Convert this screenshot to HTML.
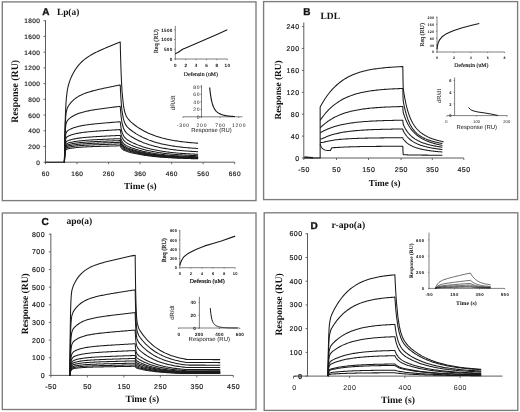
<!DOCTYPE html>
<html><head><meta charset="utf-8"><style>
html,body{margin:0;padding:0;background:#fff;}
body{width:520px;height:412px;overflow:hidden;font-family:"Liberation Sans", sans-serif;}
svg{display:block;will-change:transform;text-rendering:geometricPrecision;filter:blur(0.3px);}
</style></head><body>
<svg width="520" height="412" viewBox="0 0 520 412">
<rect width="520" height="412" fill="#fff"/>
<rect x="2.3" y="1.9" width="253.7" height="198.7" fill="none" stroke="#7c7c7c" stroke-width="1.35"/>
<line x1="45.5" y1="162.2" x2="234.68" y2="162.2" stroke="#4a4a4a" stroke-width="0.9"/>
<line x1="45.5" y1="20.22" x2="45.5" y2="162.2" stroke="#4a4a4a" stroke-width="0.9"/>
<line x1="45.5" y1="162.2" x2="45.5" y2="164.2" stroke="#4a4a4a" stroke-width="0.81"/>
<text x="45.73" y="175.6" font-size="6.5" font-family='"Liberation Sans", sans-serif' font-weight="normal" text-anchor="middle" fill="#111" letter-spacing="0.45" stroke="#222" stroke-width="0.18">60</text>
<line x1="77.03" y1="162.2" x2="77.03" y2="164.2" stroke="#4a4a4a" stroke-width="0.81"/>
<text x="77.25" y="175.6" font-size="6.5" font-family='"Liberation Sans", sans-serif' font-weight="normal" text-anchor="middle" fill="#111" letter-spacing="0.45" stroke="#222" stroke-width="0.18">160</text>
<line x1="108.56" y1="162.2" x2="108.56" y2="164.2" stroke="#4a4a4a" stroke-width="0.81"/>
<text x="108.78" y="175.6" font-size="6.5" font-family='"Liberation Sans", sans-serif' font-weight="normal" text-anchor="middle" fill="#111" letter-spacing="0.45" stroke="#222" stroke-width="0.18">260</text>
<line x1="140.09" y1="162.2" x2="140.09" y2="164.2" stroke="#4a4a4a" stroke-width="0.81"/>
<text x="140.31" y="175.6" font-size="6.5" font-family='"Liberation Sans", sans-serif' font-weight="normal" text-anchor="middle" fill="#111" letter-spacing="0.45" stroke="#222" stroke-width="0.18">360</text>
<line x1="171.62" y1="162.2" x2="171.62" y2="164.2" stroke="#4a4a4a" stroke-width="0.81"/>
<text x="171.84" y="175.6" font-size="6.5" font-family='"Liberation Sans", sans-serif' font-weight="normal" text-anchor="middle" fill="#111" letter-spacing="0.45" stroke="#222" stroke-width="0.18">460</text>
<line x1="203.15" y1="162.2" x2="203.15" y2="164.2" stroke="#4a4a4a" stroke-width="0.81"/>
<text x="203.38" y="175.6" font-size="6.5" font-family='"Liberation Sans", sans-serif' font-weight="normal" text-anchor="middle" fill="#111" letter-spacing="0.45" stroke="#222" stroke-width="0.18">560</text>
<line x1="234.68" y1="162.2" x2="234.68" y2="164.2" stroke="#4a4a4a" stroke-width="0.81"/>
<text x="234.91" y="175.6" font-size="6.5" font-family='"Liberation Sans", sans-serif' font-weight="normal" text-anchor="middle" fill="#111" letter-spacing="0.45" stroke="#222" stroke-width="0.18">660</text>
<line x1="43.5" y1="162.2" x2="45.5" y2="162.2" stroke="#4a4a4a" stroke-width="0.81"/>
<text x="40.45" y="164.8" font-size="6.5" font-family='"Liberation Sans", sans-serif' font-weight="normal" text-anchor="end" fill="#111" letter-spacing="0.45" stroke="#222" stroke-width="0.18">0</text>
<line x1="43.5" y1="146.48" x2="45.5" y2="146.48" stroke="#4a4a4a" stroke-width="0.81"/>
<text x="40.45" y="149.08" font-size="6.5" font-family='"Liberation Sans", sans-serif' font-weight="normal" text-anchor="end" fill="#111" letter-spacing="0.45" stroke="#222" stroke-width="0.18">200</text>
<line x1="43.5" y1="130.76" x2="45.5" y2="130.76" stroke="#4a4a4a" stroke-width="0.81"/>
<text x="40.45" y="133.36" font-size="6.5" font-family='"Liberation Sans", sans-serif' font-weight="normal" text-anchor="end" fill="#111" letter-spacing="0.45" stroke="#222" stroke-width="0.18">400</text>
<line x1="43.5" y1="115.04" x2="45.5" y2="115.04" stroke="#4a4a4a" stroke-width="0.81"/>
<text x="40.45" y="117.64" font-size="6.5" font-family='"Liberation Sans", sans-serif' font-weight="normal" text-anchor="end" fill="#111" letter-spacing="0.45" stroke="#222" stroke-width="0.18">600</text>
<line x1="43.5" y1="99.32" x2="45.5" y2="99.32" stroke="#4a4a4a" stroke-width="0.81"/>
<text x="40.45" y="101.92" font-size="6.5" font-family='"Liberation Sans", sans-serif' font-weight="normal" text-anchor="end" fill="#111" letter-spacing="0.45" stroke="#222" stroke-width="0.18">800</text>
<line x1="43.5" y1="83.6" x2="45.5" y2="83.6" stroke="#4a4a4a" stroke-width="0.81"/>
<text x="40.45" y="86.2" font-size="6.5" font-family='"Liberation Sans", sans-serif' font-weight="normal" text-anchor="end" fill="#111" letter-spacing="0.45" stroke="#222" stroke-width="0.18">1000</text>
<line x1="43.5" y1="67.88" x2="45.5" y2="67.88" stroke="#4a4a4a" stroke-width="0.81"/>
<text x="40.45" y="70.48" font-size="6.5" font-family='"Liberation Sans", sans-serif' font-weight="normal" text-anchor="end" fill="#111" letter-spacing="0.45" stroke="#222" stroke-width="0.18">1200</text>
<line x1="43.5" y1="52.16" x2="45.5" y2="52.16" stroke="#4a4a4a" stroke-width="0.81"/>
<text x="40.45" y="54.76" font-size="6.5" font-family='"Liberation Sans", sans-serif' font-weight="normal" text-anchor="end" fill="#111" letter-spacing="0.45" stroke="#222" stroke-width="0.18">1400</text>
<line x1="43.5" y1="36.44" x2="45.5" y2="36.44" stroke="#4a4a4a" stroke-width="0.81"/>
<text x="40.45" y="39.04" font-size="6.5" font-family='"Liberation Sans", sans-serif' font-weight="normal" text-anchor="end" fill="#111" letter-spacing="0.45" stroke="#222" stroke-width="0.18">1600</text>
<line x1="43.5" y1="20.72" x2="45.5" y2="20.72" stroke="#4a4a4a" stroke-width="0.81"/>
<text x="40.45" y="23.32" font-size="6.5" font-family='"Liberation Sans", sans-serif' font-weight="normal" text-anchor="end" fill="#111" letter-spacing="0.45" stroke="#222" stroke-width="0.18">1800</text>
<text x="42.3" y="14.6" font-size="10" font-family='"Liberation Sans", sans-serif' font-weight="bold" text-anchor="start" fill="#111" stroke="#111" stroke-width="0.35">A</text>
<text x="56.9" y="14.6" font-size="9.4" font-family='"Liberation Serif", serif' font-weight="bold" text-anchor="start" fill="#111">Lp(a)</text>
<text x="17.6" y="91.3" font-size="9.9" font-family='"Liberation Serif", serif' font-weight="bold" text-anchor="middle" fill="#111" transform="rotate(-90 17.6 91.3)">Response (RU)</text>
<text x="140.4" y="188.8" font-size="9.3" font-family='"Liberation Serif", serif' font-weight="bold" text-anchor="middle" fill="#111">Time (s)</text>
<path d="M45.5,162.2 L64.42,162.2 L64.42,162.2 L64.63,147.81 L64.84,136.31 L65.05,127.09 L65.26,119.66 L65.47,113.66 L65.68,108.78 L65.89,104.77 L66.1,101.47 L66.31,98.72 L67.22,90.82 L68.14,86.26 L69.05,83.02 L69.97,80.4 L70.88,78.11 L71.79,76.05 L72.71,74.18 L73.62,72.46 L74.53,70.88 L75.45,69.43 L76.36,68.08 L77.28,66.83 L78.19,65.67 L79.1,64.59 L80.02,63.58 L80.93,62.64 L81.85,61.75 L82.76,60.92 L83.67,60.13 L84.59,59.39 L85.5,58.69 L86.41,58.02 L87.33,57.38 L88.24,56.76 L89.16,56.18 L90.07,55.61 L90.98,55.07 L91.9,54.55 L92.81,54.04 L93.72,53.54 L94.64,53.06 L95.55,52.59 L96.47,52.14 L97.38,51.69 L98.29,51.25 L99.21,50.82 L100.12,50.4 L101.04,49.98 L101.95,49.57 L102.86,49.16 L103.78,48.76 L104.69,48.36 L105.6,47.97 L106.52,47.58 L107.43,47.19 L108.35,46.8 L109.26,46.42 L110.17,46.04 L111.09,45.66 L112,45.29 L112.92,44.91 L113.83,44.54 L114.74,44.17 L115.66,43.8 L116.57,43.43 L117.48,43.06 L118.4,42.69 L119.31,42.33 L120.23,41.96 L120.23,41.96 L120.44,50.82 L120.65,58.6 L120.86,65.43 L121.07,71.44 L121.28,76.73 L121.49,81.38 L121.7,85.48 L121.91,89.1 L122.12,92.3 L123.41,105.31 L124.69,111.83 L125.98,115.44 L127.27,117.75 L128.56,119.45 L129.85,120.84 L131.13,122.08 L132.42,123.21 L133.71,124.26 L135,125.26 L136.29,126.21 L137.57,127.11 L138.86,127.97 L140.15,128.78 L141.44,129.56 L142.72,130.3 L144.01,131 L145.3,131.67 L146.59,132.31 L147.88,132.92 L149.16,133.49 L150.45,134.05 L151.74,134.57 L153.03,135.07 L154.32,135.54 L155.6,136 L156.89,136.43 L158.18,136.84 L159.47,137.23 L160.76,137.6 L162.04,137.96 L163.33,138.29 L164.62,138.61 L165.91,138.92 L167.2,139.21 L168.48,139.49 L169.77,139.75 L171.06,140 L172.35,140.24 L173.63,140.47 L174.92,140.69 L176.21,140.89 L177.5,141.09 L178.79,141.28 L180.07,141.46 L181.36,141.63 L182.65,141.79 L183.94,141.94 L185.23,142.09 L186.51,142.23 L187.8,142.36 L189.09,142.49 L190.38,142.61 L191.67,142.72 L192.95,142.83 L194.24,142.94 L195.53,143.03 L196.82,143.13 L198.11,143.22" fill="none" stroke="#1a1a1a" stroke-width="1.05" stroke-linejoin="round"/>
<path d="M64.42,162.2 L64.42,162.2 L64.63,148.07 L64.84,137.75 L65.05,130.19 L65.26,124.62 L65.47,120.49 L65.68,117.4 L65.89,115.07 L66.1,113.28 L66.31,111.89 L67.22,108.34 L68.14,106.43 L69.05,105.01 L69.97,103.8 L70.88,102.7 L71.79,101.7 L72.71,100.78 L73.62,99.94 L74.53,99.17 L75.45,98.45 L76.36,97.79 L77.28,97.17 L78.19,96.6 L79.1,96.07 L80.02,95.58 L80.93,95.11 L81.85,94.68 L82.76,94.27 L83.67,93.88 L84.59,93.51 L85.5,93.17 L86.41,92.84 L87.33,92.52 L88.24,92.22 L89.16,91.94 L90.07,91.66 L90.98,91.39 L91.9,91.13 L92.81,90.88 L93.72,90.64 L94.64,90.4 L95.55,90.17 L96.47,89.95 L97.38,89.73 L98.29,89.51 L99.21,89.3 L100.12,89.09 L101.04,88.89 L101.95,88.68 L102.86,88.48 L103.78,88.29 L104.69,88.09 L105.6,87.9 L106.52,87.71 L107.43,87.52 L108.35,87.33 L109.26,87.14 L110.17,86.95 L111.09,86.77 L112,86.58 L112.92,86.4 L113.83,86.21 L114.74,86.03 L115.66,85.85 L116.57,85.67 L117.48,85.49 L118.4,85.31 L119.31,85.13 L120.23,84.95 L120.23,84.95 L120.44,89.6 L120.65,93.7 L120.86,97.32 L121.07,100.51 L121.28,103.32 L121.49,105.81 L121.7,108.02 L121.91,109.97 L122.12,111.71 L123.41,118.94 L124.69,122.81 L125.98,125.16 L127.27,126.81 L128.56,128.12 L129.85,129.26 L131.13,130.29 L132.42,131.26 L133.71,132.16 L135,133.02 L136.29,133.84 L137.57,134.61 L138.86,135.35 L140.15,136.05 L141.44,136.72 L142.72,137.36 L144.01,137.97 L145.3,138.55 L146.59,139.1 L147.88,139.62 L149.16,140.12 L150.45,140.59 L151.74,141.05 L153.03,141.48 L154.32,141.89 L155.6,142.28 L156.89,142.65 L158.18,143 L159.47,143.34 L160.76,143.66 L162.04,143.97 L163.33,144.26 L164.62,144.53 L165.91,144.8 L167.2,145.05 L168.48,145.29 L169.77,145.52 L171.06,145.73 L172.35,145.94 L173.63,146.14 L174.92,146.32 L176.21,146.5 L177.5,146.67 L178.79,146.83 L180.07,146.99 L181.36,147.13 L182.65,147.27 L183.94,147.4 L185.23,147.53 L186.51,147.65 L187.8,147.77 L189.09,147.88 L190.38,147.98 L191.67,148.08 L192.95,148.17 L194.24,148.26 L195.53,148.35 L196.82,148.43 L198.11,148.51" fill="none" stroke="#1a1a1a" stroke-width="1.05" stroke-linejoin="round"/>
<path d="M64.42,162.2 L64.42,162.2 L64.63,150.1 L64.84,141.65 L65.05,135.73 L65.26,131.55 L65.47,128.59 L65.68,126.46 L65.89,124.92 L66.1,123.78 L66.31,122.92 L67.22,120.83 L68.14,119.71 L69.05,118.86 L69.97,118.1 L70.88,117.42 L71.79,116.8 L72.71,116.22 L73.62,115.7 L74.53,115.21 L75.45,114.76 L76.36,114.35 L77.28,113.97 L78.19,113.61 L79.1,113.28 L80.02,112.97 L80.93,112.68 L81.85,112.4 L82.76,112.15 L83.67,111.91 L84.59,111.68 L85.5,111.46 L86.41,111.26 L87.33,111.06 L88.24,110.87 L89.16,110.69 L90.07,110.52 L90.98,110.35 L91.9,110.19 L92.81,110.03 L93.72,109.88 L94.64,109.73 L95.55,109.59 L96.47,109.45 L97.38,109.31 L98.29,109.18 L99.21,109.04 L100.12,108.91 L101.04,108.79 L101.95,108.66 L102.86,108.53 L103.78,108.41 L104.69,108.29 L105.6,108.17 L106.52,108.05 L107.43,107.93 L108.35,107.81 L109.26,107.69 L110.17,107.58 L111.09,107.46 L112,107.34 L112.92,107.23 L113.83,107.11 L114.74,107 L115.66,106.89 L116.57,106.77 L117.48,106.66 L118.4,106.55 L119.31,106.43 L120.23,106.32 L120.23,106.32 L120.44,109.24 L120.65,111.81 L120.86,114.09 L121.07,116.1 L121.28,117.89 L121.49,119.47 L121.7,120.87 L121.91,122.13 L122.12,123.24 L123.41,127.99 L124.69,130.65 L125.98,132.36 L127.27,133.64 L128.56,134.69 L129.85,135.62 L131.13,136.47 L132.42,137.28 L133.71,138.03 L135,138.75 L136.29,139.44 L137.57,140.09 L138.86,140.7 L140.15,141.29 L141.44,141.85 L142.72,142.39 L144.01,142.9 L145.3,143.38 L146.59,143.84 L147.88,144.28 L149.16,144.7 L150.45,145.09 L151.74,145.47 L153.03,145.83 L154.32,146.18 L155.6,146.5 L156.89,146.82 L158.18,147.11 L159.47,147.39 L160.76,147.66 L162.04,147.92 L163.33,148.16 L164.62,148.39 L165.91,148.62 L167.2,148.83 L168.48,149.03 L169.77,149.22 L171.06,149.4 L172.35,149.57 L173.63,149.74 L174.92,149.89 L176.21,150.04 L177.5,150.18 L178.79,150.32 L180.07,150.45 L181.36,150.57 L182.65,150.69 L183.94,150.8 L185.23,150.9 L186.51,151.01 L187.8,151.1 L189.09,151.19 L190.38,151.28 L191.67,151.36 L192.95,151.44 L194.24,151.52 L195.53,151.59 L196.82,151.66 L198.11,151.72" fill="none" stroke="#1a1a1a" stroke-width="1.05" stroke-linejoin="round"/>
<path d="M64.42,162.2 L64.42,162.2 L64.63,152.45 L64.84,145.85 L65.05,141.37 L65.26,138.31 L65.47,136.2 L65.68,134.73 L65.89,133.7 L66.1,132.96 L66.31,132.41 L67.22,131.11 L68.14,130.42 L69.05,129.87 L69.97,129.38 L70.88,128.94 L71.79,128.53 L72.71,128.16 L73.62,127.82 L74.53,127.5 L75.45,127.21 L76.36,126.94 L77.28,126.69 L78.19,126.46 L79.1,126.25 L80.02,126.04 L80.93,125.86 L81.85,125.68 L82.76,125.51 L83.67,125.36 L84.59,125.21 L85.5,125.07 L86.41,124.93 L87.33,124.8 L88.24,124.68 L89.16,124.57 L90.07,124.45 L90.98,124.34 L91.9,124.24 L92.81,124.14 L93.72,124.04 L94.64,123.94 L95.55,123.85 L96.47,123.76 L97.38,123.67 L98.29,123.58 L99.21,123.49 L100.12,123.41 L101.04,123.33 L101.95,123.24 L102.86,123.16 L103.78,123.08 L104.69,123 L105.6,122.92 L106.52,122.85 L107.43,122.77 L108.35,122.69 L109.26,122.62 L110.17,122.54 L111.09,122.46 L112,122.39 L112.92,122.31 L113.83,122.24 L114.74,122.17 L115.66,122.09 L116.57,122.02 L117.48,121.94 L118.4,121.87 L119.31,121.8 L120.23,121.72 L120.23,121.72 L120.44,123.56 L120.65,125.19 L120.86,126.63 L121.07,127.91 L121.28,129.04 L121.49,130.06 L121.7,130.96 L121.91,131.77 L122.12,132.49 L123.41,135.63 L124.69,137.48 L125.98,138.73 L127.27,139.7 L128.56,140.52 L129.85,141.27 L131.13,141.95 L132.42,142.6 L133.71,143.21 L135,143.79 L136.29,144.35 L137.57,144.87 L138.86,145.37 L140.15,145.85 L141.44,146.3 L142.72,146.74 L144.01,147.15 L145.3,147.54 L146.59,147.91 L147.88,148.27 L149.16,148.61 L150.45,148.93 L151.74,149.23 L153.03,149.53 L154.32,149.8 L155.6,150.07 L156.89,150.32 L158.18,150.56 L159.47,150.79 L160.76,151.01 L162.04,151.21 L163.33,151.41 L164.62,151.6 L165.91,151.78 L167.2,151.95 L168.48,152.11 L169.77,152.27 L171.06,152.41 L172.35,152.55 L173.63,152.69 L174.92,152.81 L176.21,152.93 L177.5,153.05 L178.79,153.16 L180.07,153.26 L181.36,153.36 L182.65,153.46 L183.94,153.55 L185.23,153.63 L186.51,153.71 L187.8,153.79 L189.09,153.86 L190.38,153.94 L191.67,154 L192.95,154.07 L194.24,154.13 L195.53,154.19 L196.82,154.24 L198.11,154.29" fill="none" stroke="#1a1a1a" stroke-width="1.05" stroke-linejoin="round"/>
<path d="M64.42,162.2 L64.42,162.2 L64.63,153.94 L64.84,148.44 L65.05,144.76 L65.26,142.29 L65.47,140.61 L65.68,139.47 L65.89,138.67 L66.1,138.1 L66.31,137.69 L67.22,136.73 L68.14,136.21 L69.05,135.79 L69.97,135.42 L70.88,135.08 L71.79,134.78 L72.71,134.49 L73.62,134.23 L74.53,133.99 L75.45,133.77 L76.36,133.56 L77.28,133.37 L78.19,133.2 L79.1,133.03 L80.02,132.88 L80.93,132.73 L81.85,132.6 L82.76,132.47 L83.67,132.35 L84.59,132.24 L85.5,132.13 L86.41,132.03 L87.33,131.93 L88.24,131.84 L89.16,131.75 L90.07,131.66 L90.98,131.58 L91.9,131.5 L92.81,131.42 L93.72,131.35 L94.64,131.28 L95.55,131.2 L96.47,131.13 L97.38,131.07 L98.29,131 L99.21,130.93 L100.12,130.87 L101.04,130.81 L101.95,130.74 L102.86,130.68 L103.78,130.62 L104.69,130.56 L105.6,130.5 L106.52,130.44 L107.43,130.38 L108.35,130.32 L109.26,130.26 L110.17,130.21 L111.09,130.15 L112,130.09 L112.92,130.03 L113.83,129.98 L114.74,129.92 L115.66,129.86 L116.57,129.81 L117.48,129.75 L118.4,129.7 L119.31,129.64 L120.23,129.58 L120.23,129.58 L120.44,130.93 L120.65,132.13 L120.86,133.19 L121.07,134.14 L121.28,134.98 L121.49,135.74 L121.7,136.41 L121.91,137.02 L122.12,137.56 L123.41,139.95 L124.69,141.4 L125.98,142.41 L127.27,143.22 L128.56,143.91 L129.85,144.54 L131.13,145.13 L132.42,145.68 L133.71,146.21 L135,146.7 L136.29,147.18 L137.57,147.63 L138.86,148.06 L140.15,148.46 L141.44,148.85 L142.72,149.22 L144.01,149.57 L145.3,149.91 L146.59,150.23 L147.88,150.53 L149.16,150.82 L150.45,151.1 L151.74,151.36 L153.03,151.61 L154.32,151.85 L155.6,152.08 L156.89,152.29 L158.18,152.5 L159.47,152.69 L160.76,152.88 L162.04,153.06 L163.33,153.22 L164.62,153.38 L165.91,153.54 L167.2,153.68 L168.48,153.82 L169.77,153.95 L171.06,154.08 L172.35,154.2 L173.63,154.31 L174.92,154.42 L176.21,154.53 L177.5,154.62 L178.79,154.72 L180.07,154.81 L181.36,154.89 L182.65,154.97 L183.94,155.05 L185.23,155.12 L186.51,155.19 L187.8,155.26 L189.09,155.32 L190.38,155.38 L191.67,155.44 L192.95,155.5 L194.24,155.55 L195.53,155.6 L196.82,155.65 L198.11,155.69" fill="none" stroke="#1a1a1a" stroke-width="1.05" stroke-linejoin="round"/>
<path d="M64.42,162.2 L64.42,162.2 L64.63,155.17 L64.84,150.54 L65.05,147.48 L65.26,145.46 L65.47,144.1 L65.68,143.18 L65.89,142.54 L66.1,142.1 L66.31,141.78 L67.22,141.03 L68.14,140.63 L69.05,140.3 L69.97,140.01 L70.88,139.74 L71.79,139.5 L72.71,139.27 L73.62,139.07 L74.53,138.88 L75.45,138.7 L76.36,138.54 L77.28,138.39 L78.19,138.25 L79.1,138.12 L80.02,138 L80.93,137.89 L81.85,137.78 L82.76,137.68 L83.67,137.58 L84.59,137.5 L85.5,137.41 L86.41,137.33 L87.33,137.25 L88.24,137.18 L89.16,137.11 L90.07,137.04 L90.98,136.98 L91.9,136.91 L92.81,136.85 L93.72,136.79 L94.64,136.73 L95.55,136.68 L96.47,136.62 L97.38,136.57 L98.29,136.52 L99.21,136.46 L100.12,136.41 L101.04,136.36 L101.95,136.31 L102.86,136.27 L103.78,136.22 L104.69,136.17 L105.6,136.12 L106.52,136.07 L107.43,136.03 L108.35,135.98 L109.26,135.94 L110.17,135.89 L111.09,135.84 L112,135.8 L112.92,135.75 L113.83,135.71 L114.74,135.67 L115.66,135.62 L116.57,135.58 L117.48,135.53 L118.4,135.49 L119.31,135.44 L120.23,135.4 L120.23,135.4 L120.44,136.42 L120.65,137.33 L120.86,138.14 L121.07,138.86 L121.28,139.5 L121.49,140.08 L121.7,140.59 L121.91,141.06 L122.12,141.48 L123.41,143.35 L124.69,144.52 L125.98,145.35 L127.27,146.03 L128.56,146.62 L129.85,147.16 L131.13,147.67 L132.42,148.14 L133.71,148.59 L135,149.02 L136.29,149.43 L137.57,149.82 L138.86,150.19 L140.15,150.54 L141.44,150.87 L142.72,151.19 L144.01,151.49 L145.3,151.78 L146.59,152.06 L147.88,152.32 L149.16,152.57 L150.45,152.81 L151.74,153.03 L153.03,153.25 L154.32,153.45 L155.6,153.65 L156.89,153.83 L158.18,154.01 L159.47,154.18 L160.76,154.34 L162.04,154.49 L163.33,154.64 L164.62,154.78 L165.91,154.91 L167.2,155.03 L168.48,155.15 L169.77,155.27 L171.06,155.38 L172.35,155.48 L173.63,155.58 L174.92,155.67 L176.21,155.76 L177.5,155.85 L178.79,155.93 L180.07,156 L181.36,156.08 L182.65,156.15 L183.94,156.21 L185.23,156.28 L186.51,156.34 L187.8,156.39 L189.09,156.45 L190.38,156.5 L191.67,156.55 L192.95,156.6 L194.24,156.64 L195.53,156.68 L196.82,156.72 L198.11,156.76" fill="none" stroke="#1a1a1a" stroke-width="1.05" stroke-linejoin="round"/>
<path d="M64.42,162.2 L64.42,162.2 L64.63,155.9 L64.84,151.77 L65.05,149.07 L65.26,147.29 L65.47,146.1 L65.68,145.3 L65.89,144.76 L66.1,144.38 L66.31,144.1 L67.22,143.47 L68.14,143.12 L69.05,142.84 L69.97,142.59 L70.88,142.36 L71.79,142.15 L72.71,141.96 L73.62,141.78 L74.53,141.61 L75.45,141.46 L76.36,141.32 L77.28,141.2 L78.19,141.08 L79.1,140.96 L80.02,140.86 L80.93,140.76 L81.85,140.67 L82.76,140.58 L83.67,140.5 L84.59,140.43 L85.5,140.35 L86.41,140.28 L87.33,140.22 L88.24,140.15 L89.16,140.09 L90.07,140.03 L90.98,139.98 L91.9,139.92 L92.81,139.87 L93.72,139.82 L94.64,139.77 L95.55,139.72 L96.47,139.67 L97.38,139.63 L98.29,139.58 L99.21,139.54 L100.12,139.49 L101.04,139.45 L101.95,139.41 L102.86,139.37 L103.78,139.33 L104.69,139.28 L105.6,139.24 L106.52,139.2 L107.43,139.16 L108.35,139.12 L109.26,139.08 L110.17,139.04 L111.09,139.01 L112,138.97 L112.92,138.93 L113.83,138.89 L114.74,138.85 L115.66,138.81 L116.57,138.77 L117.48,138.74 L118.4,138.7 L119.31,138.66 L120.23,138.62 L120.23,138.62 L120.44,139.47 L120.65,140.23 L120.86,140.91 L121.07,141.51 L121.28,142.05 L121.49,142.54 L121.7,142.97 L121.91,143.37 L122.12,143.72 L123.41,145.32 L124.69,146.33 L125.98,147.07 L127.27,147.67 L128.56,148.2 L129.85,148.69 L131.13,149.15 L132.42,149.58 L133.71,149.98 L135,150.37 L136.29,150.74 L137.57,151.09 L138.86,151.42 L140.15,151.74 L141.44,152.04 L142.72,152.33 L144.01,152.61 L145.3,152.87 L146.59,153.12 L147.88,153.35 L149.16,153.58 L150.45,153.79 L151.74,154 L153.03,154.19 L154.32,154.38 L155.6,154.56 L156.89,154.72 L158.18,154.88 L159.47,155.04 L160.76,155.18 L162.04,155.32 L163.33,155.45 L164.62,155.58 L165.91,155.7 L167.2,155.81 L168.48,155.92 L169.77,156.02 L171.06,156.12 L172.35,156.21 L173.63,156.3 L174.92,156.39 L176.21,156.47 L177.5,156.54 L178.79,156.62 L180.07,156.69 L181.36,156.75 L182.65,156.81 L183.94,156.87 L185.23,156.93 L186.51,156.99 L187.8,157.04 L189.09,157.09 L190.38,157.13 L191.67,157.18 L192.95,157.22 L194.24,157.26 L195.53,157.3 L196.82,157.34 L198.11,157.37" fill="none" stroke="#1a1a1a" stroke-width="1.05" stroke-linejoin="round"/>
<path d="M64.42,162.2 L64.42,162.2 L64.63,156.36 L64.84,152.55 L65.05,150.07 L65.26,148.43 L65.47,147.35 L65.68,146.62 L65.89,146.13 L66.1,145.78 L66.31,145.54 L67.22,144.97 L68.14,144.66 L69.05,144.4 L69.97,144.17 L70.88,143.97 L71.79,143.78 L72.71,143.6 L73.62,143.44 L74.53,143.29 L75.45,143.16 L76.36,143.03 L77.28,142.91 L78.19,142.81 L79.1,142.71 L80.02,142.61 L80.93,142.52 L81.85,142.44 L82.76,142.36 L83.67,142.29 L84.59,142.22 L85.5,142.15 L86.41,142.09 L87.33,142.03 L88.24,141.97 L89.16,141.92 L90.07,141.86 L90.98,141.81 L91.9,141.76 L92.81,141.72 L93.72,141.67 L94.64,141.63 L95.55,141.58 L96.47,141.54 L97.38,141.5 L98.29,141.46 L99.21,141.42 L100.12,141.38 L101.04,141.34 L101.95,141.3 L102.86,141.26 L103.78,141.22 L104.69,141.19 L105.6,141.15 L106.52,141.11 L107.43,141.08 L108.35,141.04 L109.26,141 L110.17,140.97 L111.09,140.93 L112,140.9 L112.92,140.86 L113.83,140.83 L114.74,140.79 L115.66,140.76 L116.57,140.72 L117.48,140.69 L118.4,140.66 L119.31,140.62 L120.23,140.59 L120.23,140.59 L120.44,141.34 L120.65,142.01 L120.86,142.61 L121.07,143.15 L121.28,143.63 L121.49,144.06 L121.7,144.45 L121.91,144.8 L122.12,145.11 L123.41,146.55 L124.69,147.47 L125.98,148.15 L127.27,148.7 L128.56,149.2 L129.85,149.65 L131.13,150.08 L132.42,150.48 L133.71,150.86 L135,151.22 L136.29,151.56 L137.57,151.89 L138.86,152.2 L140.15,152.5 L141.44,152.78 L142.72,153.05 L144.01,153.3 L145.3,153.55 L146.59,153.78 L147.88,154 L149.16,154.21 L150.45,154.41 L151.74,154.6 L153.03,154.78 L154.32,154.96 L155.6,155.12 L156.89,155.28 L158.18,155.43 L159.47,155.57 L160.76,155.71 L162.04,155.83 L163.33,155.96 L164.62,156.07 L165.91,156.19 L167.2,156.29 L168.48,156.39 L169.77,156.49 L171.06,156.58 L172.35,156.67 L173.63,156.75 L174.92,156.83 L176.21,156.9 L177.5,156.98 L178.79,157.04 L180.07,157.11 L181.36,157.17 L182.65,157.23 L183.94,157.29 L185.23,157.34 L186.51,157.39 L187.8,157.44 L189.09,157.48 L190.38,157.53 L191.67,157.57 L192.95,157.61 L194.24,157.65 L195.53,157.68 L196.82,157.72 L198.11,157.75" fill="none" stroke="#1a1a1a" stroke-width="1.05" stroke-linejoin="round"/>
<path d="M64.42,162.2 L64.42,162.2 L64.63,156.77 L64.84,153.25 L65.05,150.96 L65.26,149.45 L65.47,148.46 L65.68,147.8 L65.89,147.35 L66.1,147.04 L66.31,146.81 L67.22,146.3 L68.14,146.02 L69.05,145.79 L69.97,145.58 L70.88,145.39 L71.79,145.22 L72.71,145.06 L73.62,144.91 L74.53,144.78 L75.45,144.65 L76.36,144.54 L77.28,144.43 L78.19,144.33 L79.1,144.24 L80.02,144.16 L80.93,144.08 L81.85,144 L82.76,143.93 L83.67,143.86 L84.59,143.8 L85.5,143.74 L86.41,143.68 L87.33,143.63 L88.24,143.58 L89.16,143.53 L90.07,143.48 L90.98,143.43 L91.9,143.39 L92.81,143.34 L93.72,143.3 L94.64,143.26 L95.55,143.22 L96.47,143.18 L97.38,143.14 L98.29,143.11 L99.21,143.07 L100.12,143.03 L101.04,143 L101.95,142.96 L102.86,142.93 L103.78,142.89 L104.69,142.86 L105.6,142.83 L106.52,142.79 L107.43,142.76 L108.35,142.73 L109.26,142.7 L110.17,142.66 L111.09,142.63 L112,142.6 L112.92,142.57 L113.83,142.54 L114.74,142.5 L115.66,142.47 L116.57,142.44 L117.48,142.41 L118.4,142.38 L119.31,142.35 L120.23,142.32 L120.23,142.32 L120.44,142.99 L120.65,143.58 L120.86,144.12 L121.07,144.6 L121.28,145.02 L121.49,145.41 L121.7,145.76 L121.91,146.07 L122.12,146.36 L123.41,147.65 L124.69,148.49 L125.98,149.12 L127.27,149.63 L128.56,150.09 L129.85,150.52 L131.13,150.91 L132.42,151.29 L133.71,151.64 L135,151.98 L136.29,152.3 L137.57,152.61 L138.86,152.9 L140.15,153.18 L141.44,153.44 L142.72,153.69 L144.01,153.93 L145.3,154.16 L146.59,154.37 L147.88,154.58 L149.16,154.78 L150.45,154.97 L151.74,155.14 L153.03,155.31 L154.32,155.48 L155.6,155.63 L156.89,155.78 L158.18,155.92 L159.47,156.05 L160.76,156.17 L162.04,156.29 L163.33,156.41 L164.62,156.52 L165.91,156.62 L167.2,156.72 L168.48,156.82 L169.77,156.91 L171.06,156.99 L172.35,157.07 L173.63,157.15 L174.92,157.22 L176.21,157.29 L177.5,157.36 L178.79,157.42 L180.07,157.49 L181.36,157.54 L182.65,157.6 L183.94,157.65 L185.23,157.7 L186.51,157.75 L187.8,157.79 L189.09,157.84 L190.38,157.88 L191.67,157.92 L192.95,157.95 L194.24,157.99 L195.53,158.02 L196.82,158.05 L198.11,158.08" fill="none" stroke="#1a1a1a" stroke-width="1.05" stroke-linejoin="round"/>
<path d="M64.42,162.2 L64.42,162.2 L64.63,157.18 L64.84,153.93 L65.05,151.82 L65.26,150.44 L65.47,149.54 L65.68,148.94 L65.89,148.53 L66.1,148.25 L66.31,148.04 L67.22,147.58 L68.14,147.32 L69.05,147.11 L69.97,146.93 L70.88,146.76 L71.79,146.6 L72.71,146.45 L73.62,146.32 L74.53,146.2 L75.45,146.09 L76.36,145.98 L77.28,145.89 L78.19,145.8 L79.1,145.71 L80.02,145.64 L80.93,145.56 L81.85,145.5 L82.76,145.43 L83.67,145.37 L84.59,145.31 L85.5,145.26 L86.41,145.21 L87.33,145.16 L88.24,145.11 L89.16,145.06 L90.07,145.02 L90.98,144.98 L91.9,144.94 L92.81,144.9 L93.72,144.86 L94.64,144.82 L95.55,144.79 L96.47,144.75 L97.38,144.72 L98.29,144.68 L99.21,144.65 L100.12,144.62 L101.04,144.59 L101.95,144.55 L102.86,144.52 L103.78,144.49 L104.69,144.46 L105.6,144.43 L106.52,144.4 L107.43,144.37 L108.35,144.34 L109.26,144.31 L110.17,144.28 L111.09,144.25 L112,144.22 L112.92,144.19 L113.83,144.17 L114.74,144.14 L115.66,144.11 L116.57,144.08 L117.48,144.05 L118.4,144.02 L119.31,143.99 L120.23,143.97 L120.23,143.97 L120.44,144.56 L120.65,145.09 L120.86,145.56 L121.07,145.99 L121.28,146.37 L121.49,146.71 L121.7,147.02 L121.91,147.3 L122.12,147.56 L123.41,148.72 L124.69,149.49 L125.98,150.06 L127.27,150.54 L128.56,150.97 L129.85,151.36 L131.13,151.73 L132.42,152.08 L133.71,152.41 L135,152.72 L136.29,153.02 L137.57,153.31 L138.86,153.58 L140.15,153.84 L141.44,154.08 L142.72,154.32 L144.01,154.54 L145.3,154.75 L146.59,154.95 L147.88,155.14 L149.16,155.33 L150.45,155.5 L151.74,155.67 L153.03,155.83 L154.32,155.98 L155.6,156.12 L156.89,156.26 L158.18,156.39 L159.47,156.51 L160.76,156.63 L162.04,156.74 L163.33,156.85 L164.62,156.95 L165.91,157.05 L167.2,157.14 L168.48,157.23 L169.77,157.31 L171.06,157.39 L172.35,157.47 L173.63,157.54 L174.92,157.61 L176.21,157.67 L177.5,157.73 L178.79,157.79 L180.07,157.85 L181.36,157.9 L182.65,157.95 L183.94,158 L185.23,158.05 L186.51,158.09 L187.8,158.14 L189.09,158.18 L190.38,158.21 L191.67,158.25 L192.95,158.29 L194.24,158.32 L195.53,158.35 L196.82,158.38 L198.11,158.41" fill="none" stroke="#1a1a1a" stroke-width="1.05" stroke-linejoin="round"/>
<path d="M64.42,162.2 L64.42,162.2 L64.63,157.63 L64.84,154.69 L65.05,152.78 L65.26,151.54 L65.47,150.73 L65.68,150.19 L65.89,149.83 L66.1,149.58 L66.31,149.4 L67.22,148.99 L68.14,148.76 L69.05,148.58 L69.97,148.41 L70.88,148.26 L71.79,148.12 L72.71,147.99 L73.62,147.87 L74.53,147.76 L75.45,147.66 L76.36,147.57 L77.28,147.48 L78.19,147.4 L79.1,147.33 L80.02,147.26 L80.93,147.2 L81.85,147.14 L82.76,147.08 L83.67,147.02 L84.59,146.97 L85.5,146.92 L86.41,146.88 L87.33,146.83 L88.24,146.79 L89.16,146.75 L90.07,146.71 L90.98,146.68 L91.9,146.64 L92.81,146.6 L93.72,146.57 L94.64,146.54 L95.55,146.51 L96.47,146.47 L97.38,146.44 L98.29,146.41 L99.21,146.38 L100.12,146.35 L101.04,146.33 L101.95,146.3 L102.86,146.27 L103.78,146.24 L104.69,146.21 L105.6,146.19 L106.52,146.16 L107.43,146.13 L108.35,146.11 L109.26,146.08 L110.17,146.05 L111.09,146.03 L112,146 L112.92,145.98 L113.83,145.95 L114.74,145.93 L115.66,145.9 L116.57,145.87 L117.48,145.85 L118.4,145.82 L119.31,145.8 L120.23,145.77 L120.23,145.77 L120.44,146.29 L120.65,146.75 L120.86,147.16 L121.07,147.52 L121.28,147.85 L121.49,148.15 L121.7,148.42 L121.91,148.67 L122.12,148.89 L123.41,149.92 L124.69,150.6 L125.98,151.12 L127.27,151.55 L128.56,151.94 L129.85,152.3 L131.13,152.64 L132.42,152.96 L133.71,153.26 L135,153.55 L136.29,153.83 L137.57,154.09 L138.86,154.34 L140.15,154.57 L141.44,154.8 L142.72,155.01 L144.01,155.22 L145.3,155.41 L146.59,155.6 L147.88,155.77 L149.16,155.94 L150.45,156.1 L151.74,156.25 L153.03,156.4 L154.32,156.54 L155.6,156.67 L156.89,156.79 L158.18,156.91 L159.47,157.03 L160.76,157.13 L162.04,157.24 L163.33,157.33 L164.62,157.43 L165.91,157.52 L167.2,157.6 L168.48,157.68 L169.77,157.76 L171.06,157.83 L172.35,157.9 L173.63,157.97 L174.92,158.03 L176.21,158.09 L177.5,158.15 L178.79,158.2 L180.07,158.25 L181.36,158.3 L182.65,158.35 L183.94,158.39 L185.23,158.44 L186.51,158.48 L187.8,158.52 L189.09,158.55 L190.38,158.59 L191.67,158.62 L192.95,158.65 L194.24,158.68 L195.53,158.71 L196.82,158.74 L198.11,158.76" fill="none" stroke="#1a1a1a" stroke-width="1.05" stroke-linejoin="round"/>
<line x1="175.3" y1="59" x2="227.3" y2="59" stroke="#4a4a4a" stroke-width="0.7"/>
<line x1="175.3" y1="25.9" x2="175.3" y2="59" stroke="#4a4a4a" stroke-width="0.7"/>
<line x1="175.3" y1="59" x2="175.3" y2="60.2" stroke="#4a4a4a" stroke-width="0.63"/>
<text x="175.45" y="66.9" font-size="4.6" font-family='"Liberation Sans", sans-serif' font-weight="bold" text-anchor="middle" fill="#111" letter-spacing="0.3">0</text>
<line x1="185.7" y1="59" x2="185.7" y2="60.2" stroke="#4a4a4a" stroke-width="0.63"/>
<text x="185.85" y="66.9" font-size="4.6" font-family='"Liberation Sans", sans-serif' font-weight="bold" text-anchor="middle" fill="#111" letter-spacing="0.3">2</text>
<line x1="196.1" y1="59" x2="196.1" y2="60.2" stroke="#4a4a4a" stroke-width="0.63"/>
<text x="196.25" y="66.9" font-size="4.6" font-family='"Liberation Sans", sans-serif' font-weight="bold" text-anchor="middle" fill="#111" letter-spacing="0.3">4</text>
<line x1="206.5" y1="59" x2="206.5" y2="60.2" stroke="#4a4a4a" stroke-width="0.63"/>
<text x="206.65" y="66.9" font-size="4.6" font-family='"Liberation Sans", sans-serif' font-weight="bold" text-anchor="middle" fill="#111" letter-spacing="0.3">6</text>
<line x1="216.9" y1="59" x2="216.9" y2="60.2" stroke="#4a4a4a" stroke-width="0.63"/>
<text x="217.05" y="66.9" font-size="4.6" font-family='"Liberation Sans", sans-serif' font-weight="bold" text-anchor="middle" fill="#111" letter-spacing="0.3">8</text>
<line x1="227.3" y1="59" x2="227.3" y2="60.2" stroke="#4a4a4a" stroke-width="0.63"/>
<text x="227.45" y="66.9" font-size="4.6" font-family='"Liberation Sans", sans-serif' font-weight="bold" text-anchor="middle" fill="#111" letter-spacing="0.3">10</text>
<line x1="174.1" y1="59" x2="175.3" y2="59" stroke="#4a4a4a" stroke-width="0.63"/>
<text x="172.6" y="60.84" font-size="4.6" font-family='"Liberation Sans", sans-serif' font-weight="bold" text-anchor="end" fill="#111" letter-spacing="0.3">0</text>
<line x1="174.1" y1="49.27" x2="175.3" y2="49.27" stroke="#4a4a4a" stroke-width="0.63"/>
<text x="172.6" y="51.11" font-size="4.6" font-family='"Liberation Sans", sans-serif' font-weight="bold" text-anchor="end" fill="#111" letter-spacing="0.3">500</text>
<line x1="174.1" y1="39.53" x2="175.3" y2="39.53" stroke="#4a4a4a" stroke-width="0.63"/>
<text x="172.6" y="41.37" font-size="4.6" font-family='"Liberation Sans", sans-serif' font-weight="bold" text-anchor="end" fill="#111" letter-spacing="0.3">1000</text>
<line x1="174.1" y1="29.79" x2="175.3" y2="29.79" stroke="#4a4a4a" stroke-width="0.63"/>
<text x="172.6" y="31.63" font-size="4.6" font-family='"Liberation Sans", sans-serif' font-weight="bold" text-anchor="end" fill="#111" letter-spacing="0.3">1500</text>
<path d="M175.3,54.13 L175.82,53.55 L177.9,52.57 L180.5,50.82 L183.1,49.07 L185.7,47.9 L196.1,43.42 L206.5,38.95 L216.9,34.47 L227.3,29.79" fill="none" stroke="#1a1a1a" stroke-width="1.1" stroke-linejoin="round"/>
<text x="200.8" y="76.2" font-size="5.75" font-family='"Liberation Serif", serif' font-weight="normal" text-anchor="middle" fill="#111" stroke="#111" stroke-width="0.15">Defensin (uM)</text>
<text x="158" y="41.2" font-size="6.2" font-family='"Liberation Serif", serif' font-weight="normal" text-anchor="middle" fill="#111" transform="rotate(-90 158 41.2)" stroke="#111" stroke-width="0.15">Req (RU)</text>
<line x1="182.9" y1="116.8" x2="242.42" y2="116.8" stroke="#4a4a4a" stroke-width="0.7"/>
<line x1="201.5" y1="84.92" x2="201.5" y2="116.8" stroke="#4a4a4a" stroke-width="0.7"/>
<line x1="182.9" y1="116.8" x2="182.9" y2="118" stroke="#4a4a4a" stroke-width="0.63"/>
<text x="183.3" y="126.9" font-size="5.0" font-family='"Liberation Sans", sans-serif' font-weight="normal" text-anchor="middle" fill="#111" letter-spacing="0.8">-300</text>
<line x1="201.5" y1="116.8" x2="201.5" y2="118" stroke="#4a4a4a" stroke-width="0.63"/>
<text x="201.9" y="126.9" font-size="5.0" font-family='"Liberation Sans", sans-serif' font-weight="normal" text-anchor="middle" fill="#111" letter-spacing="0.8">200</text>
<line x1="220.1" y1="116.8" x2="220.1" y2="118" stroke="#4a4a4a" stroke-width="0.63"/>
<text x="220.5" y="126.9" font-size="5.0" font-family='"Liberation Sans", sans-serif' font-weight="normal" text-anchor="middle" fill="#111" letter-spacing="0.8">700</text>
<line x1="238.7" y1="116.8" x2="238.7" y2="118" stroke="#4a4a4a" stroke-width="0.63"/>
<text x="239.1" y="126.9" font-size="5.0" font-family='"Liberation Sans", sans-serif' font-weight="normal" text-anchor="middle" fill="#111" letter-spacing="0.8">1200</text>
<line x1="200.3" y1="116.8" x2="201.5" y2="116.8" stroke="#4a4a4a" stroke-width="0.63"/>
<text x="200.4" y="118.8" font-size="5.0" font-family='"Liberation Sans", sans-serif' font-weight="normal" text-anchor="end" fill="#111" letter-spacing="0.8">0</text>
<line x1="200.3" y1="109.3" x2="201.5" y2="109.3" stroke="#4a4a4a" stroke-width="0.63"/>
<text x="200.4" y="111.3" font-size="5.0" font-family='"Liberation Sans", sans-serif' font-weight="normal" text-anchor="end" fill="#111" letter-spacing="0.8">20</text>
<line x1="200.3" y1="101.8" x2="201.5" y2="101.8" stroke="#4a4a4a" stroke-width="0.63"/>
<text x="200.4" y="103.8" font-size="5.0" font-family='"Liberation Sans", sans-serif' font-weight="normal" text-anchor="end" fill="#111" letter-spacing="0.8">40</text>
<line x1="200.3" y1="94.3" x2="201.5" y2="94.3" stroke="#4a4a4a" stroke-width="0.63"/>
<text x="200.4" y="96.3" font-size="5.0" font-family='"Liberation Sans", sans-serif' font-weight="normal" text-anchor="end" fill="#111" letter-spacing="0.8">60</text>
<line x1="200.3" y1="86.8" x2="201.5" y2="86.8" stroke="#4a4a4a" stroke-width="0.63"/>
<text x="200.4" y="88.8" font-size="5.0" font-family='"Liberation Sans", sans-serif' font-weight="normal" text-anchor="end" fill="#111" letter-spacing="0.8">80</text>
<path d="M209.68,87.55 L210.2,92.24 L210.72,95.98 L211.23,98.99 L211.75,101.43 L212.27,103.43 L212.78,105.07 L213.3,106.45 L213.81,107.6 L214.33,108.58 L214.85,109.42 L215.36,110.15 L215.88,110.79 L216.4,111.34 L216.91,111.84 L217.43,112.27 L217.94,112.67 L218.46,113.02 L218.98,113.34 L219.49,113.62 L220.01,113.89 L220.53,114.12 L221.04,114.34 L221.56,114.54 L222.07,114.72 L222.59,114.89 L223.11,115.04 L223.62,115.18 L224.14,115.31 L224.66,115.42 L225.17,115.53 L225.69,115.63 L226.2,115.72 L226.72,115.81 L227.24,115.89 L227.75,115.96 L228.27,116.03 L228.79,116.09 L229.3,116.14 L229.82,116.19 L230.33,116.24 L230.85,116.29 L231.37,116.33 L231.88,116.36 L232.4,116.4 L232.92,116.43 L233.43,116.46 L233.95,116.48 L234.46,116.51 L234.98,116.53" fill="none" stroke="#1a1a1a" stroke-width="1.15" stroke-linejoin="round"/>
<text x="211.5" y="131.6" font-size="5.9" font-family='"Liberation Sans", sans-serif' font-weight="normal" text-anchor="middle" fill="#111">Response (RU)</text>
<text x="174.8" y="102.9" font-size="6.2" font-family='"Liberation Sans", sans-serif' font-weight="normal" text-anchor="middle" fill="#111" transform="rotate(-90 174.8 102.9)">dR/dt</text>
<rect x="263.6" y="1.6" width="254" height="198" fill="none" stroke="#7c7c7c" stroke-width="1.35"/>
<line x1="303.8" y1="158" x2="463.8" y2="158" stroke="#4a4a4a" stroke-width="0.9"/>
<line x1="303.8" y1="22.5" x2="303.8" y2="158" stroke="#4a4a4a" stroke-width="0.9"/>
<line x1="303.8" y1="158" x2="303.8" y2="160" stroke="#4a4a4a" stroke-width="0.81"/>
<text x="304.05" y="172.2" font-size="7.0" font-family='"Liberation Sans", sans-serif' font-weight="normal" text-anchor="middle" fill="#111" letter-spacing="0.5" stroke="#222" stroke-width="0.18">-50</text>
<line x1="336.5" y1="158" x2="336.5" y2="160" stroke="#4a4a4a" stroke-width="0.81"/>
<text x="336.75" y="172.2" font-size="7.0" font-family='"Liberation Sans", sans-serif' font-weight="normal" text-anchor="middle" fill="#111" letter-spacing="0.5" stroke="#222" stroke-width="0.18">50</text>
<line x1="368.5" y1="158" x2="368.5" y2="160" stroke="#4a4a4a" stroke-width="0.81"/>
<text x="368.75" y="172.2" font-size="7.0" font-family='"Liberation Sans", sans-serif' font-weight="normal" text-anchor="middle" fill="#111" letter-spacing="0.5" stroke="#222" stroke-width="0.18">150</text>
<line x1="401.1" y1="158" x2="401.1" y2="160" stroke="#4a4a4a" stroke-width="0.81"/>
<text x="401.35" y="172.2" font-size="7.0" font-family='"Liberation Sans", sans-serif' font-weight="normal" text-anchor="middle" fill="#111" letter-spacing="0.5" stroke="#222" stroke-width="0.18">250</text>
<line x1="432.3" y1="158" x2="432.3" y2="160" stroke="#4a4a4a" stroke-width="0.81"/>
<text x="432.55" y="172.2" font-size="7.0" font-family='"Liberation Sans", sans-serif' font-weight="normal" text-anchor="middle" fill="#111" letter-spacing="0.5" stroke="#222" stroke-width="0.18">350</text>
<line x1="463.8" y1="158" x2="463.8" y2="160" stroke="#4a4a4a" stroke-width="0.81"/>
<text x="464.05" y="172.2" font-size="7.0" font-family='"Liberation Sans", sans-serif' font-weight="normal" text-anchor="middle" fill="#111" letter-spacing="0.5" stroke="#222" stroke-width="0.18">450</text>
<line x1="301.8" y1="158" x2="303.8" y2="158" stroke="#4a4a4a" stroke-width="0.81"/>
<text x="299.6" y="160.52" font-size="7.0" font-family='"Liberation Sans", sans-serif' font-weight="normal" text-anchor="end" fill="#111" letter-spacing="0.5" stroke="#222" stroke-width="0.18">0</text>
<line x1="301.8" y1="136.1" x2="303.8" y2="136.1" stroke="#4a4a4a" stroke-width="0.81"/>
<text x="299.6" y="138.62" font-size="7.0" font-family='"Liberation Sans", sans-serif' font-weight="normal" text-anchor="end" fill="#111" letter-spacing="0.5" stroke="#222" stroke-width="0.18">40</text>
<line x1="301.8" y1="114.2" x2="303.8" y2="114.2" stroke="#4a4a4a" stroke-width="0.81"/>
<text x="299.6" y="116.72" font-size="7.0" font-family='"Liberation Sans", sans-serif' font-weight="normal" text-anchor="end" fill="#111" letter-spacing="0.5" stroke="#222" stroke-width="0.18">80</text>
<line x1="301.8" y1="92.3" x2="303.8" y2="92.3" stroke="#4a4a4a" stroke-width="0.81"/>
<text x="299.6" y="94.82" font-size="7.0" font-family='"Liberation Sans", sans-serif' font-weight="normal" text-anchor="end" fill="#111" letter-spacing="0.5" stroke="#222" stroke-width="0.18">120</text>
<line x1="301.8" y1="70.4" x2="303.8" y2="70.4" stroke="#4a4a4a" stroke-width="0.81"/>
<text x="299.6" y="72.92" font-size="7.0" font-family='"Liberation Sans", sans-serif' font-weight="normal" text-anchor="end" fill="#111" letter-spacing="0.5" stroke="#222" stroke-width="0.18">160</text>
<line x1="301.8" y1="48.5" x2="303.8" y2="48.5" stroke="#4a4a4a" stroke-width="0.81"/>
<text x="299.6" y="51.02" font-size="7.0" font-family='"Liberation Sans", sans-serif' font-weight="normal" text-anchor="end" fill="#111" letter-spacing="0.5" stroke="#222" stroke-width="0.18">200</text>
<line x1="301.8" y1="26.6" x2="303.8" y2="26.6" stroke="#4a4a4a" stroke-width="0.81"/>
<text x="299.6" y="29.12" font-size="7.0" font-family='"Liberation Sans", sans-serif' font-weight="normal" text-anchor="end" fill="#111" letter-spacing="0.5" stroke="#222" stroke-width="0.18">240</text>
<text x="303.3" y="14.5" font-size="10" font-family='"Liberation Sans", sans-serif' font-weight="bold" text-anchor="start" fill="#111" stroke="#111" stroke-width="0.35">B</text>
<text x="320.5" y="18.5" font-size="9.5" font-family='"Liberation Serif", serif' font-weight="bold" text-anchor="start" fill="#111">LDL</text>
<text x="281" y="90" font-size="9.3" font-family='"Liberation Serif", serif' font-weight="bold" text-anchor="middle" fill="#111" transform="rotate(-90 281 90)">Response (RU)</text>
<text x="384.6" y="185.8" font-size="9.0" font-family='"Liberation Serif", serif' font-weight="bold" text-anchor="middle" fill="#111">Time (s)</text>
<path d="M303.8,158 L320.15,158 L320.15,107.08 L320.37,106.67 L320.59,106.26 L320.8,105.86 L321.02,105.46 L321.24,105.06 L321.46,104.67 L321.68,104.28 L321.89,103.9 L322.11,103.52 L323.49,101.19 L324.88,99.01 L326.26,96.96 L327.64,95.04 L329.03,93.23 L330.41,91.54 L331.79,89.95 L333.17,88.46 L334.56,87.06 L335.94,85.74 L337.31,84.51 L338.66,83.35 L340.01,82.27 L341.37,81.25 L342.72,80.29 L344.07,79.39 L345.42,78.55 L346.78,77.76 L348.13,77.02 L349.48,76.32 L350.84,75.66 L352.19,75.05 L353.54,74.47 L354.9,73.93 L356.25,73.43 L357.6,72.95 L358.96,72.5 L360.31,72.08 L361.66,71.69 L363.02,71.32 L364.37,70.97 L365.72,70.65 L367.08,70.34 L368.43,70.06 L369.81,69.79 L371.19,69.53 L372.56,69.3 L373.94,69.07 L375.32,68.87 L376.7,68.67 L378.08,68.49 L379.46,68.31 L380.84,68.15 L382.21,68 L383.59,67.86 L384.97,67.72 L386.35,67.6 L387.73,67.48 L389.11,67.37 L390.49,67.26 L391.86,67.17 L393.24,67.08 L394.62,66.99 L396,66.91 L397.38,66.83 L398.76,66.76 L400.14,66.7 L401.5,66.63 L402.82,66.57 L402.82,66.57 L403.02,80.8 L403.23,88.64 L403.44,90.04 L403.65,91.4 L403.86,92.71 L404.06,93.98 L404.27,95.2 L404.48,96.39 L404.69,97.54 L405.35,100.93 L406,104 L406.66,106.77 L407.32,109.28 L407.98,111.56 L408.64,113.63 L409.3,115.52 L409.95,117.25 L410.61,118.83 L411.27,120.28 L411.93,121.61 L412.59,122.84 L413.25,123.97 L413.91,125.02 L414.56,125.99 L415.22,126.9 L415.88,127.74 L416.54,128.53 L417.2,129.26 L417.86,129.95 L418.51,130.6 L419.17,131.21 L419.83,131.79 L420.49,132.33 L421.15,132.85 L421.81,133.33 L422.46,133.8 L423.12,134.24 L423.78,134.66 L424.44,135.06 L425.1,135.44 L425.76,135.8 L426.41,136.15 L427.07,136.49 L427.73,136.81 L428.39,137.12 L429.05,137.41 L429.71,137.69 L430.36,137.97 L431.02,138.23 L431.68,138.48 L432.34,138.73 L433,138.96 L433.67,139.19 L434.33,139.4 L435,139.61 L435.66,139.82 L436.33,140.01 L436.99,140.2 L437.66,140.39 L438.32,140.56 L438.99,140.73 L439.65,140.9 L440.32,141.06 L440.98,141.21 L441.65,141.36 L442.31,141.51 L442.98,141.65 L443.64,141.78" fill="none" stroke="#1a1a1a" stroke-width="1.05" stroke-linejoin="round"/>
<path d="M320.15,120.39 L320.37,120.06 L320.59,119.74 L320.8,119.42 L321.02,119.11 L321.24,118.8 L321.46,118.49 L321.68,118.18 L321.89,117.88 L322.11,117.58 L323.49,115.75 L324.88,114.03 L326.26,112.41 L327.64,110.9 L329.03,109.48 L330.41,108.14 L331.79,106.89 L333.17,105.71 L334.56,104.61 L335.94,103.58 L337.31,102.6 L338.66,101.69 L340.01,100.84 L341.37,100.03 L342.72,99.28 L344.07,98.57 L345.42,97.91 L346.78,97.28 L348.13,96.7 L349.48,96.15 L350.84,95.63 L352.19,95.15 L353.54,94.7 L354.9,94.27 L356.25,93.87 L357.6,93.5 L358.96,93.14 L360.31,92.81 L361.66,92.5 L363.02,92.21 L364.37,91.94 L365.72,91.68 L367.08,91.44 L368.43,91.22 L369.81,91 L371.19,90.8 L372.56,90.62 L373.94,90.44 L375.32,90.28 L376.7,90.12 L378.08,89.98 L379.46,89.84 L380.84,89.72 L382.21,89.6 L383.59,89.48 L384.97,89.38 L386.35,89.28 L387.73,89.19 L389.11,89.1 L390.49,89.02 L391.86,88.94 L393.24,88.87 L394.62,88.8 L396,88.74 L397.38,88.68 L398.76,88.62 L400.14,88.57 L401.5,88.52 L402.82,88.47 L402.82,88.47 L403.02,96.5 L403.23,101.09 L403.44,102.21 L403.65,103.3 L403.86,104.35 L404.06,105.37 L404.27,106.35 L404.48,107.3 L404.69,108.22 L405.33,110.86 L405.96,113.25 L406.6,115.42 L407.24,117.39 L407.87,119.19 L408.51,120.82 L409.15,122.32 L409.79,123.69 L410.42,124.94 L411.06,126.1 L411.7,127.16 L412.33,128.14 L412.97,129.05 L413.61,129.89 L414.25,130.67 L414.88,131.4 L415.52,132.08 L416.16,132.71 L416.8,133.31 L417.43,133.87 L418.07,134.39 L418.71,134.88 L419.34,135.35 L419.98,135.79 L420.62,136.21 L421.26,136.6 L421.89,136.98 L422.53,137.34 L423.17,137.68 L423.8,138 L424.44,138.31 L425.08,138.61 L425.72,138.89 L426.35,139.16 L426.99,139.43 L427.63,139.68 L428.27,139.92 L428.9,140.15 L429.54,140.37 L430.18,140.58 L430.81,140.79 L431.45,140.99 L432.09,141.18 L432.73,141.36 L433.37,141.54 L434.02,141.71 L434.66,141.88 L435.3,142.04 L435.95,142.2 L436.59,142.35 L437.23,142.49 L437.88,142.63 L438.52,142.77 L439.16,142.9 L439.81,143.03 L440.45,143.15 L441.09,143.27 L441.74,143.38 L442.38,143.5" fill="none" stroke="#1a1a1a" stroke-width="1.05" stroke-linejoin="round"/>
<path d="M320.15,127.89 L320.37,127.67 L320.59,127.46 L320.8,127.24 L321.02,127.03 L321.24,126.82 L321.46,126.62 L321.68,126.41 L321.89,126.21 L322.11,126.01 L323.49,124.78 L324.88,123.63 L326.26,122.55 L327.64,121.54 L329.03,120.59 L330.41,119.7 L331.79,118.86 L333.17,118.07 L334.56,117.33 L335.94,116.64 L337.31,115.99 L338.66,115.38 L340.01,114.81 L341.37,114.27 L342.72,113.77 L344.07,113.29 L345.42,112.85 L346.78,112.43 L348.13,112.04 L349.48,111.67 L350.84,111.33 L352.19,111.01 L353.54,110.7 L354.9,110.42 L356.25,110.15 L357.6,109.9 L358.96,109.66 L360.31,109.44 L361.66,109.23 L363.02,109.04 L364.37,108.86 L365.72,108.69 L367.08,108.52 L368.43,108.37 L369.81,108.23 L371.19,108.1 L372.56,107.97 L373.94,107.86 L375.32,107.75 L376.7,107.64 L378.08,107.55 L379.46,107.46 L380.84,107.37 L382.21,107.29 L383.59,107.21 L384.97,107.14 L386.35,107.08 L387.73,107.02 L389.11,106.96 L390.49,106.9 L391.86,106.85 L393.24,106.8 L394.62,106.76 L396,106.71 L397.38,106.68 L398.76,106.64 L400.14,106.6 L401.5,106.57 L402.82,106.54 L402.82,106.53 L403.02,110.19 L403.23,112.36 L403.44,113.05 L403.65,113.72 L403.86,114.38 L404.06,115.01 L404.27,115.63 L404.48,116.23 L404.69,116.81 L405.33,118.5 L405.96,120.06 L406.6,121.5 L407.24,122.83 L407.87,124.07 L408.51,125.21 L409.15,126.28 L409.79,127.28 L410.42,128.21 L411.06,129.09 L411.7,129.91 L412.33,130.68 L412.97,131.41 L413.61,132.09 L414.25,132.74 L414.88,133.36 L415.52,133.94 L416.16,134.5 L416.8,135.03 L417.43,135.53 L418.07,136.01 L418.71,136.47 L419.34,136.9 L419.98,137.32 L420.62,137.73 L421.26,138.11 L421.89,138.48 L422.53,138.84 L423.17,139.18 L423.8,139.51 L424.44,139.82 L425.08,140.13 L425.72,140.42 L426.35,140.71 L426.99,140.98 L427.63,141.24 L428.27,141.5 L428.9,141.74 L429.54,141.98 L430.18,142.21 L430.81,142.43 L431.45,142.65 L432.09,142.86 L432.73,143.06 L433.37,143.25 L434.02,143.44 L434.66,143.62 L435.3,143.8 L435.95,143.97 L436.59,144.14 L437.23,144.3 L437.88,144.45 L438.52,144.6 L439.16,144.75 L439.81,144.89 L440.45,145.03 L441.09,145.16 L441.74,145.29 L442.38,145.41" fill="none" stroke="#1a1a1a" stroke-width="1.05" stroke-linejoin="round"/>
<path d="M320.15,132.81 L320.37,132.69 L320.59,132.56 L320.8,132.43 L321.02,132.31 L321.24,132.19 L321.46,132.07 L321.68,131.94 L321.89,131.83 L322.11,131.71 L323.49,130.98 L324.88,130.31 L326.26,129.67 L327.64,129.07 L329.03,128.51 L330.41,127.98 L331.79,127.49 L333.17,127.03 L334.56,126.59 L335.94,126.18 L337.31,125.8 L338.66,125.44 L340.01,125.1 L341.37,124.79 L342.72,124.49 L344.07,124.21 L345.42,123.95 L346.78,123.7 L348.13,123.47 L349.48,123.25 L350.84,123.05 L352.19,122.86 L353.54,122.68 L354.9,122.51 L356.25,122.35 L357.6,122.21 L358.96,122.07 L360.31,121.94 L361.66,121.81 L363.02,121.7 L364.37,121.59 L365.72,121.49 L367.08,121.4 L368.43,121.31 L369.81,121.22 L371.19,121.14 L372.56,121.07 L373.94,121 L375.32,120.94 L376.7,120.88 L378.08,120.82 L379.46,120.77 L380.84,120.71 L382.21,120.67 L383.59,120.62 L384.97,120.58 L386.35,120.54 L387.73,120.51 L389.11,120.47 L390.49,120.44 L391.86,120.41 L393.24,120.38 L394.62,120.35 L396,120.33 L397.38,120.31 L398.76,120.28 L400.14,120.26 L401.5,120.24 L402.82,120.22 L402.82,120.22 L403.02,122.78 L403.23,124.3 L403.44,124.78 L403.65,125.24 L403.86,125.7 L404.06,126.14 L404.27,126.56 L404.48,126.98 L404.69,127.39 L405.33,128.56 L405.96,129.64 L406.6,130.64 L407.24,131.56 L407.87,132.42 L408.51,133.22 L409.15,133.96 L409.79,134.65 L410.42,135.3 L411.06,135.91 L411.7,136.48 L412.33,137.01 L412.97,137.52 L413.61,137.99 L414.25,138.44 L414.88,138.87 L415.52,139.28 L416.16,139.66 L416.8,140.03 L417.43,140.38 L418.07,140.71 L418.71,141.03 L419.34,141.33 L419.98,141.62 L420.62,141.9 L421.26,142.17 L421.89,142.43 L422.53,142.67 L423.17,142.91 L423.8,143.14 L424.44,143.36 L425.08,143.57 L425.72,143.77 L426.35,143.97 L426.99,144.16 L427.63,144.34 L428.27,144.52 L428.9,144.69 L429.54,144.86 L430.18,145.01 L430.81,145.17 L431.45,145.32 L432.09,145.46 L432.73,145.6 L433.37,145.74 L434.02,145.87 L434.66,145.99 L435.3,146.12 L435.95,146.24 L436.59,146.35 L437.23,146.46 L437.88,146.57 L438.52,146.67 L439.16,146.78 L439.81,146.87 L440.45,146.97 L441.09,147.06 L441.74,147.15 L442.38,147.24" fill="none" stroke="#1a1a1a" stroke-width="1.05" stroke-linejoin="round"/>
<path d="M320.15,138.62 L320.37,138.79 L320.59,138.89 L320.8,138.94 L321.02,138.96 L321.24,138.94 L321.46,138.9 L321.68,138.85 L321.89,138.78 L322.11,138.7 L323.49,138.1 L324.88,137.46 L326.26,136.86 L327.64,136.3 L329.03,135.79 L330.41,135.31 L331.79,134.87 L333.17,134.47 L334.56,134.09 L335.94,133.74 L337.31,133.42 L338.66,133.12 L340.01,132.84 L341.37,132.57 L342.72,132.33 L344.07,132.1 L345.42,131.89 L346.78,131.7 L348.13,131.51 L349.48,131.34 L350.84,131.18 L352.19,131.03 L353.54,130.89 L354.9,130.75 L356.25,130.63 L357.6,130.51 L358.96,130.41 L360.31,130.3 L361.66,130.21 L363.02,130.12 L364.37,130.04 L365.72,129.96 L367.08,129.88 L368.43,129.82 L369.81,129.75 L371.19,129.69 L372.56,129.63 L373.94,129.58 L375.32,129.53 L376.7,129.48 L378.08,129.44 L379.46,129.4 L380.84,129.36 L382.21,129.32 L383.59,129.29 L384.97,129.26 L386.35,129.23 L387.73,129.2 L389.11,129.17 L390.49,129.15 L391.86,129.13 L393.24,129.1 L394.62,129.08 L396,129.06 L397.38,129.05 L398.76,129.03 L400.14,129.01 L401.5,129 L402.82,128.98 L402.82,128.98 L403.02,130.08 L403.23,130.82 L403.44,131.21 L403.65,131.59 L403.86,131.96 L404.06,132.32 L404.27,132.67 L404.48,133.01 L404.69,133.34 L405.33,134.29 L405.96,135.17 L406.6,135.99 L407.24,136.74 L407.87,137.44 L408.51,138.09 L409.15,138.69 L409.79,139.25 L410.42,139.78 L411.06,140.28 L411.7,140.74 L412.33,141.18 L412.97,141.59 L413.61,141.98 L414.25,142.34 L414.88,142.69 L415.52,143.02 L416.16,143.33 L416.8,143.63 L417.43,143.92 L418.07,144.19 L418.71,144.45 L419.34,144.69 L419.98,144.93 L420.62,145.16 L421.26,145.38 L421.89,145.59 L422.53,145.79 L423.17,145.98 L423.8,146.17 L424.44,146.34 L425.08,146.52 L425.72,146.68 L426.35,146.84 L426.99,147 L427.63,147.15 L428.27,147.29 L428.9,147.43 L429.54,147.56 L430.18,147.69 L430.81,147.82 L431.45,147.94 L432.09,148.06 L432.73,148.17 L433.37,148.28 L434.02,148.39 L434.66,148.49 L435.3,148.59 L435.95,148.69 L436.59,148.78 L437.23,148.87 L437.88,148.96 L438.52,149.05 L439.16,149.13 L439.81,149.21 L440.45,149.29 L441.09,149.36 L441.74,149.43 L442.38,149.5" fill="none" stroke="#1a1a1a" stroke-width="1.05" stroke-linejoin="round"/>
<path d="M320.15,141.57 L320.37,141.91 L320.59,142.15 L320.8,142.32 L321.02,142.44 L321.24,142.51 L321.46,142.55 L321.68,142.56 L321.89,142.56 L322.11,142.54 L323.49,142.25 L324.88,141.88 L326.26,141.52 L327.64,141.2 L329.03,140.91 L330.41,140.65 L331.79,140.42 L333.17,140.2 L334.56,140.01 L335.94,139.83 L337.31,139.67 L338.66,139.53 L340.01,139.39 L341.37,139.27 L342.72,139.16 L344.07,139.06 L345.42,138.96 L346.78,138.87 L348.13,138.79 L349.48,138.72 L350.84,138.65 L352.19,138.58 L353.54,138.52 L354.9,138.47 L356.25,138.41 L357.6,138.36 L358.96,138.32 L360.31,138.28 L361.66,138.24 L363.02,138.2 L364.37,138.17 L365.72,138.14 L367.08,138.11 L368.43,138.08 L369.81,138.05 L371.19,138.03 L372.56,138 L373.94,137.98 L375.32,137.96 L376.7,137.94 L378.08,137.93 L379.46,137.91 L380.84,137.89 L382.21,137.88 L383.59,137.87 L384.97,137.85 L386.35,137.84 L387.73,137.83 L389.11,137.82 L390.49,137.81 L391.86,137.8 L393.24,137.79 L394.62,137.78 L396,137.77 L397.38,137.77 L398.76,137.76 L400.14,137.75 L401.5,137.75 L402.82,137.74 L402.82,137.74 L403.02,138.47 L403.23,138.98 L403.44,139.25 L403.65,139.51 L403.86,139.77 L404.06,140.02 L404.27,140.26 L404.48,140.5 L404.69,140.73 L405.33,141.39 L405.96,142.01 L406.6,142.57 L407.24,143.1 L407.87,143.59 L408.51,144.04 L409.15,144.46 L409.79,144.85 L410.42,145.22 L411.06,145.56 L411.7,145.89 L412.33,146.19 L412.97,146.48 L413.61,146.75 L414.25,147 L414.88,147.25 L415.52,147.48 L416.16,147.69 L416.8,147.9 L417.43,148.1 L418.07,148.29 L418.71,148.47 L419.34,148.64 L419.98,148.81 L420.62,148.97 L421.26,149.12 L421.89,149.26 L422.53,149.4 L423.17,149.54 L423.8,149.67 L424.44,149.79 L425.08,149.91 L425.72,150.03 L426.35,150.14 L426.99,150.25 L427.63,150.35 L428.27,150.45 L428.9,150.55 L429.54,150.64 L430.18,150.73 L430.81,150.82 L431.45,150.9 L432.09,150.99 L432.73,151.07 L433.37,151.14 L434.02,151.22 L434.66,151.29 L435.3,151.36 L435.95,151.43 L436.59,151.49 L437.23,151.55 L437.88,151.62 L438.52,151.67 L439.16,151.73 L439.81,151.79 L440.45,151.84 L441.09,151.89 L441.74,151.94 L442.38,151.99" fill="none" stroke="#1a1a1a" stroke-width="1.05" stroke-linejoin="round"/>
<path d="M320.15,143.76 L320.37,144.48 L320.59,145.13 L320.8,145.7 L321.02,146.22 L321.24,146.68 L321.46,147.1 L321.68,147.46 L321.89,147.8 L322.11,148.09 L323.49,149.36 L324.88,149.99 L326.26,150.3 L327.64,150.46 L329.03,150.53 L330.41,150.57 L331.79,147.85 L333.17,147.74 L334.56,147.64 L335.94,147.54 L337.31,147.46 L338.66,147.37 L340.01,147.29 L341.37,147.22 L342.72,147.15 L344.07,147.09 L345.42,147.03 L346.78,146.98 L348.13,146.93 L349.48,146.88 L350.84,146.83 L352.19,146.79 L353.54,146.76 L354.9,146.72 L356.25,146.69 L357.6,146.65 L358.96,146.63 L360.31,146.6 L361.66,146.57 L363.02,146.55 L364.37,146.53 L365.72,146.51 L367.08,146.49 L368.43,146.47 L369.81,146.45 L371.19,146.44 L372.56,146.43 L373.94,146.41 L375.32,146.4 L376.7,146.39 L378.08,146.38 L379.46,146.37 L380.84,146.36 L382.21,146.35 L383.59,146.34 L384.97,146.33 L386.35,146.33 L387.73,146.32 L389.11,146.31 L390.49,146.31 L391.86,146.3 L393.24,146.3 L394.62,146.29 L396,146.29 L397.38,146.28 L398.76,146.28 L400.14,146.28 L401.5,146.27 L402.82,146.27 L402.82,146.23 L403.02,151.89 L403.23,154.72 L403.44,154.73 L403.65,154.74 L403.86,154.75 L404.06,154.76 L404.27,154.77 L404.48,154.78 L404.69,154.79 L405.33,154.81 L405.96,154.83 L406.6,154.85 L407.24,154.87 L407.87,154.89 L408.51,154.91 L409.15,154.92 L409.79,154.94 L410.42,154.95 L411.06,154.97 L411.7,154.98 L412.33,154.99 L412.97,155 L413.61,155.01 L414.25,155.02 L414.88,155.03 L415.52,155.04 L416.16,155.04 L416.8,155.05 L417.43,155.06 L418.07,155.07 L418.71,155.07 L419.34,155.08 L419.98,155.09 L420.62,155.09 L421.26,155.1 L421.89,155.1 L422.53,155.11 L423.17,155.11 L423.8,155.12 L424.44,155.12 L425.08,155.13 L425.72,155.13 L426.35,155.14 L426.99,155.14 L427.63,155.14 L428.27,155.15 L428.9,155.15 L429.54,155.15 L430.18,155.16 L430.81,155.16 L431.45,155.16 L432.09,155.17 L432.73,155.17 L433.37,155.17 L434.02,155.18 L434.66,155.18 L435.3,155.18 L435.95,155.18 L436.59,155.19 L437.23,155.19 L437.88,155.19 L438.52,155.19 L439.16,155.19 L439.81,155.2 L440.45,155.2 L441.09,155.2 L441.74,155.2 L442.38,155.2" fill="none" stroke="#1a1a1a" stroke-width="1.05" stroke-linejoin="round"/>
<path d="M304.5,157.0 L309,157.4 L313,157.8" stroke="#1a1a1a" stroke-width="1.4" fill="none"/>
<line x1="437" y1="52" x2="504.6" y2="52" stroke="#4a4a4a" stroke-width="0.7"/>
<line x1="437" y1="16.54" x2="437" y2="52" stroke="#4a4a4a" stroke-width="0.7"/>
<line x1="437" y1="52" x2="437" y2="53" stroke="#4a4a4a" stroke-width="0.63"/>
<text x="437.1" y="58.6" font-size="3.6" font-family='"Liberation Sans", sans-serif' font-weight="bold" text-anchor="middle" fill="#111" letter-spacing="0.2">0</text>
<line x1="453.9" y1="52" x2="453.9" y2="53" stroke="#4a4a4a" stroke-width="0.63"/>
<text x="454" y="58.6" font-size="3.6" font-family='"Liberation Sans", sans-serif' font-weight="bold" text-anchor="middle" fill="#111" letter-spacing="0.2">2</text>
<line x1="470.8" y1="52" x2="470.8" y2="53" stroke="#4a4a4a" stroke-width="0.63"/>
<text x="470.9" y="58.6" font-size="3.6" font-family='"Liberation Sans", sans-serif' font-weight="bold" text-anchor="middle" fill="#111" letter-spacing="0.2">4</text>
<line x1="487.7" y1="52" x2="487.7" y2="53" stroke="#4a4a4a" stroke-width="0.63"/>
<text x="487.8" y="58.6" font-size="3.6" font-family='"Liberation Sans", sans-serif' font-weight="bold" text-anchor="middle" fill="#111" letter-spacing="0.2">6</text>
<line x1="504.6" y1="52" x2="504.6" y2="53" stroke="#4a4a4a" stroke-width="0.63"/>
<text x="504.7" y="58.6" font-size="3.6" font-family='"Liberation Sans", sans-serif' font-weight="bold" text-anchor="middle" fill="#111" letter-spacing="0.2">8</text>
<line x1="436" y1="52" x2="437" y2="52" stroke="#4a4a4a" stroke-width="0.63"/>
<text x="434.2" y="53.44" font-size="3.6" font-family='"Liberation Sans", sans-serif' font-weight="bold" text-anchor="end" fill="#111" letter-spacing="0.2">0</text>
<line x1="436" y1="45.08" x2="437" y2="45.08" stroke="#4a4a4a" stroke-width="0.63"/>
<text x="434.2" y="46.52" font-size="3.6" font-family='"Liberation Sans", sans-serif' font-weight="bold" text-anchor="end" fill="#111" letter-spacing="0.2">40</text>
<line x1="436" y1="38.16" x2="437" y2="38.16" stroke="#4a4a4a" stroke-width="0.63"/>
<text x="434.2" y="39.6" font-size="3.6" font-family='"Liberation Sans", sans-serif' font-weight="bold" text-anchor="end" fill="#111" letter-spacing="0.2">80</text>
<line x1="436" y1="31.24" x2="437" y2="31.24" stroke="#4a4a4a" stroke-width="0.63"/>
<text x="434.2" y="32.68" font-size="3.6" font-family='"Liberation Sans", sans-serif' font-weight="bold" text-anchor="end" fill="#111" letter-spacing="0.2">120</text>
<line x1="436" y1="24.32" x2="437" y2="24.32" stroke="#4a4a4a" stroke-width="0.63"/>
<text x="434.2" y="25.76" font-size="3.6" font-family='"Liberation Sans", sans-serif' font-weight="bold" text-anchor="end" fill="#111" letter-spacing="0.2">160</text>
<line x1="436" y1="17.4" x2="437" y2="17.4" stroke="#4a4a4a" stroke-width="0.63"/>
<text x="434.2" y="18.84" font-size="3.6" font-family='"Liberation Sans", sans-serif' font-weight="bold" text-anchor="end" fill="#111" letter-spacing="0.2">200</text>
<path d="M437,49.41 L437.42,45.95 L438.27,42.48 L439.54,39.89 L442.07,36.78 L445.45,34.35 L449.68,32.28 L453.9,30.55 L462.35,27.78 L470.8,25.53 L479.25,23.46" fill="none" stroke="#1a1a1a" stroke-width="1.1" stroke-linejoin="round"/>
<text x="471.3" y="67.4" font-size="5.75" font-family='"Liberation Serif", serif' font-weight="normal" text-anchor="middle" fill="#111" stroke="#111" stroke-width="0.15">Defensin (uM)</text>
<text x="424.3" y="34.8" font-size="6.0" font-family='"Liberation Serif", serif' font-weight="normal" text-anchor="middle" fill="#111" transform="rotate(-90 424.3 34.8)" stroke="#111" stroke-width="0.15">Req (RU)</text>
<line x1="447" y1="115.6" x2="507.5" y2="115.6" stroke="#4a4a4a" stroke-width="0.7"/>
<line x1="454.6" y1="77.5" x2="454.6" y2="115.6" stroke="#4a4a4a" stroke-width="0.7"/>
<line x1="446.5" y1="115.6" x2="446.5" y2="116.6" stroke="#4a4a4a" stroke-width="0.63"/>
<line x1="476.65" y1="115.6" x2="476.65" y2="116.6" stroke="#4a4a4a" stroke-width="0.63"/>
<line x1="506.8" y1="115.6" x2="506.8" y2="116.6" stroke="#4a4a4a" stroke-width="0.63"/>
<line x1="453.6" y1="115.6" x2="454.6" y2="115.6" stroke="#4a4a4a" stroke-width="0.63"/>
<text x="451.7" y="117.2" font-size="4.0" font-family='"Liberation Sans", sans-serif' font-weight="bold" text-anchor="end" fill="#111" letter-spacing="0.2">0</text>
<line x1="453.6" y1="103.9" x2="454.6" y2="103.9" stroke="#4a4a4a" stroke-width="0.63"/>
<text x="451.7" y="105.5" font-size="4.0" font-family='"Liberation Sans", sans-serif' font-weight="bold" text-anchor="end" fill="#111" letter-spacing="0.2">2</text>
<line x1="453.6" y1="92.2" x2="454.6" y2="92.2" stroke="#4a4a4a" stroke-width="0.63"/>
<text x="451.7" y="93.8" font-size="4.0" font-family='"Liberation Sans", sans-serif' font-weight="bold" text-anchor="end" fill="#111" letter-spacing="0.2">4</text>
<line x1="453.6" y1="80.5" x2="454.6" y2="80.5" stroke="#4a4a4a" stroke-width="0.63"/>
<text x="451.7" y="82.1" font-size="4.0" font-family='"Liberation Sans", sans-serif' font-weight="bold" text-anchor="end" fill="#111" letter-spacing="0.2">6</text>
<text x="446.5" y="123" font-size="4.0" font-family='"Liberation Sans", sans-serif' font-weight="normal" text-anchor="middle" fill="#111" letter-spacing="0.2">0</text>
<text x="476.65" y="123" font-size="4.0" font-family='"Liberation Sans", sans-serif' font-weight="normal" text-anchor="middle" fill="#111" letter-spacing="0.2">100</text>
<text x="506.8" y="123" font-size="4.0" font-family='"Liberation Sans", sans-serif' font-weight="normal" text-anchor="middle" fill="#111" letter-spacing="0.2">200</text>
<path d="M468.5,107.5 L470.5,109.6 L473,110.8 L478,112 L485,113 L492,114.2 L498,115.5" fill="none" stroke="#1a1a1a" stroke-width="1.0" stroke-linejoin="round"/>
<text x="476.7" y="129" font-size="5.9" font-family='"Liberation Sans", sans-serif' font-weight="normal" text-anchor="middle" fill="#111">Response (RU)</text>
<text x="441" y="96" font-size="5.9" font-family='"Liberation Sans", sans-serif' font-weight="normal" text-anchor="middle" fill="#111" transform="rotate(-90 441 96)">dR/dt</text>
<rect x="2.3" y="213" width="253.7" height="196.5" fill="none" stroke="#7c7c7c" stroke-width="1.35"/>
<line x1="50.85" y1="375.4" x2="233.35" y2="375.4" stroke="#4a4a4a" stroke-width="0.9"/>
<line x1="50.85" y1="233.7" x2="50.85" y2="375.4" stroke="#4a4a4a" stroke-width="0.9"/>
<line x1="50.85" y1="375.4" x2="50.85" y2="377.4" stroke="#4a4a4a" stroke-width="0.81"/>
<text x="51.1" y="388.8" font-size="7.0" font-family='"Liberation Sans", sans-serif' font-weight="normal" text-anchor="middle" fill="#111" letter-spacing="0.5" stroke="#222" stroke-width="0.18">-50</text>
<line x1="87.35" y1="375.4" x2="87.35" y2="377.4" stroke="#4a4a4a" stroke-width="0.81"/>
<text x="87.6" y="388.8" font-size="7.0" font-family='"Liberation Sans", sans-serif' font-weight="normal" text-anchor="middle" fill="#111" letter-spacing="0.5" stroke="#222" stroke-width="0.18">50</text>
<line x1="123.85" y1="375.4" x2="123.85" y2="377.4" stroke="#4a4a4a" stroke-width="0.81"/>
<text x="124.1" y="388.8" font-size="7.0" font-family='"Liberation Sans", sans-serif' font-weight="normal" text-anchor="middle" fill="#111" letter-spacing="0.5" stroke="#222" stroke-width="0.18">150</text>
<line x1="160.35" y1="375.4" x2="160.35" y2="377.4" stroke="#4a4a4a" stroke-width="0.81"/>
<text x="160.6" y="388.8" font-size="7.0" font-family='"Liberation Sans", sans-serif' font-weight="normal" text-anchor="middle" fill="#111" letter-spacing="0.5" stroke="#222" stroke-width="0.18">250</text>
<line x1="196.85" y1="375.4" x2="196.85" y2="377.4" stroke="#4a4a4a" stroke-width="0.81"/>
<text x="197.1" y="388.8" font-size="7.0" font-family='"Liberation Sans", sans-serif' font-weight="normal" text-anchor="middle" fill="#111" letter-spacing="0.5" stroke="#222" stroke-width="0.18">350</text>
<line x1="233.35" y1="375.4" x2="233.35" y2="377.4" stroke="#4a4a4a" stroke-width="0.81"/>
<text x="233.6" y="388.8" font-size="7.0" font-family='"Liberation Sans", sans-serif' font-weight="normal" text-anchor="middle" fill="#111" letter-spacing="0.5" stroke="#222" stroke-width="0.18">450</text>
<line x1="48.85" y1="375.4" x2="50.85" y2="375.4" stroke="#4a4a4a" stroke-width="0.81"/>
<text x="45.1" y="377.92" font-size="7.0" font-family='"Liberation Sans", sans-serif' font-weight="normal" text-anchor="end" fill="#111" letter-spacing="0.5" stroke="#222" stroke-width="0.18">0</text>
<line x1="48.85" y1="357.75" x2="50.85" y2="357.75" stroke="#4a4a4a" stroke-width="0.81"/>
<text x="45.1" y="360.27" font-size="7.0" font-family='"Liberation Sans", sans-serif' font-weight="normal" text-anchor="end" fill="#111" letter-spacing="0.5" stroke="#222" stroke-width="0.18">100</text>
<line x1="48.85" y1="340.1" x2="50.85" y2="340.1" stroke="#4a4a4a" stroke-width="0.81"/>
<text x="45.1" y="342.62" font-size="7.0" font-family='"Liberation Sans", sans-serif' font-weight="normal" text-anchor="end" fill="#111" letter-spacing="0.5" stroke="#222" stroke-width="0.18">200</text>
<line x1="48.85" y1="322.45" x2="50.85" y2="322.45" stroke="#4a4a4a" stroke-width="0.81"/>
<text x="45.1" y="324.97" font-size="7.0" font-family='"Liberation Sans", sans-serif' font-weight="normal" text-anchor="end" fill="#111" letter-spacing="0.5" stroke="#222" stroke-width="0.18">300</text>
<line x1="48.85" y1="304.8" x2="50.85" y2="304.8" stroke="#4a4a4a" stroke-width="0.81"/>
<text x="45.1" y="307.32" font-size="7.0" font-family='"Liberation Sans", sans-serif' font-weight="normal" text-anchor="end" fill="#111" letter-spacing="0.5" stroke="#222" stroke-width="0.18">400</text>
<line x1="48.85" y1="287.15" x2="50.85" y2="287.15" stroke="#4a4a4a" stroke-width="0.81"/>
<text x="45.1" y="289.67" font-size="7.0" font-family='"Liberation Sans", sans-serif' font-weight="normal" text-anchor="end" fill="#111" letter-spacing="0.5" stroke="#222" stroke-width="0.18">500</text>
<line x1="48.85" y1="269.5" x2="50.85" y2="269.5" stroke="#4a4a4a" stroke-width="0.81"/>
<text x="45.1" y="272.02" font-size="7.0" font-family='"Liberation Sans", sans-serif' font-weight="normal" text-anchor="end" fill="#111" letter-spacing="0.5" stroke="#222" stroke-width="0.18">600</text>
<line x1="48.85" y1="251.85" x2="50.85" y2="251.85" stroke="#4a4a4a" stroke-width="0.81"/>
<text x="45.1" y="254.37" font-size="7.0" font-family='"Liberation Sans", sans-serif' font-weight="normal" text-anchor="end" fill="#111" letter-spacing="0.5" stroke="#222" stroke-width="0.18">700</text>
<line x1="48.85" y1="234.2" x2="50.85" y2="234.2" stroke="#4a4a4a" stroke-width="0.81"/>
<text x="45.1" y="236.72" font-size="7.0" font-family='"Liberation Sans", sans-serif' font-weight="normal" text-anchor="end" fill="#111" letter-spacing="0.5" stroke="#222" stroke-width="0.18">800</text>
<text x="41.6" y="224.6" font-size="10" font-family='"Liberation Sans", sans-serif' font-weight="bold" text-anchor="start" fill="#111" stroke="#111" stroke-width="0.35">C</text>
<text x="66.4" y="224.2" font-size="9.5" font-family='"Liberation Serif", serif' font-weight="bold" text-anchor="start" fill="#111">apo(a)</text>
<text x="27.6" y="303.7" font-size="9.6" font-family='"Liberation Serif", serif' font-weight="bold" text-anchor="middle" fill="#111" transform="rotate(-90 27.6 303.7)">Response (RU)</text>
<text x="142.3" y="401.9" font-size="9.6" font-family='"Liberation Serif", serif' font-weight="bold" text-anchor="middle" fill="#111">Time (s)</text>
<path d="M69.83,375.4 L69.83,375.4 L70.07,344.24 L70.32,324.58 L70.56,312.09 L70.8,304.05 L71.05,298.8 L71.29,295.3 L71.53,292.88 L71.78,291.15 L72.02,289.84 L73.09,286.32 L74.16,283.93 L75.23,281.88 L76.3,280.05 L77.37,278.41 L78.44,276.93 L79.51,275.6 L80.58,274.39 L81.65,273.3 L82.72,272.31 L83.79,271.4 L84.86,270.57 L85.93,269.82 L87,269.12 L88.07,268.47 L89.14,267.88 L90.21,267.33 L91.28,266.81 L92.35,266.33 L93.43,265.87 L94.5,265.44 L95.57,265.04 L96.64,264.65 L97.71,264.28 L98.78,263.93 L99.85,263.59 L100.92,263.27 L101.99,262.95 L103.06,262.65 L104.13,262.35 L105.2,262.06 L106.27,261.78 L107.34,261.51 L108.41,261.24 L109.48,260.97 L110.55,260.71 L111.62,260.45 L112.69,260.19 L113.76,259.94 L114.83,259.69 L115.9,259.44 L116.97,259.2 L118.04,258.95 L119.11,258.71 L120.18,258.47 L121.25,258.23 L122.32,257.99 L123.39,257.75 L124.46,257.51 L125.53,257.28 L126.6,257.04 L127.67,256.8 L128.74,256.57 L129.81,256.34 L130.88,256.1 L131.95,255.87 L133.02,255.63 L134.09,255.4 L135.16,255.17 L135.16,255.17 L135.41,275.81 L135.65,290.39 L135.9,300.74 L136.14,308.11 L136.38,313.4 L136.62,317.22 L136.87,320.03 L137.11,322.12 L137.35,323.7 L138.76,328.39 L140.16,330.86 L141.57,332.93 L142.97,334.83 L144.38,336.62 L145.78,338.28 L147.19,339.85 L148.59,341.32 L149.99,342.69 L151.4,343.98 L152.8,345.18 L154.21,346.31 L155.61,347.37 L157.02,348.36 L158.42,349.29 L159.82,350.17 L161.23,350.98 L162.63,351.75 L164.04,352.47 L165.44,353.14 L166.85,353.77 L168.25,354.36 L169.65,354.91 L171.06,355.43 L172.46,355.91 L173.87,356.37 L175.27,356.79 L176.68,357.19 L178.08,357.57 L179.48,357.92 L180.89,358.25 L182.29,358.55 L183.7,358.84 L185.1,359.11 L186.51,359.37 L187.91,359.46 L189.31,359.46 L190.72,359.47 L192.12,359.48 L193.53,359.49 L194.93,359.5 L196.34,359.5 L197.74,359.51 L199.15,359.52 L200.55,359.53 L201.95,359.53 L203.36,359.54 L204.76,359.55 L206.17,359.56 L207.57,359.57 L208.98,359.57 L210.38,359.58 L211.78,359.59 L213.19,359.6 L214.59,359.61 L216,359.61 L217.4,359.62 L218.81,359.63 L220.21,359.64" fill="none" stroke="#1a1a1a" stroke-width="1.05" stroke-linejoin="round"/>
<path d="M69.83,375.4 L69.83,375.4 L70.07,355.49 L70.32,342.14 L70.56,333.14 L70.8,327.02 L71.05,322.82 L71.29,319.88 L71.53,317.79 L71.78,316.26 L72.02,315.11 L73.09,312.13 L74.16,310.33 L75.23,308.85 L76.3,307.54 L77.37,306.37 L78.44,305.32 L79.51,304.37 L80.58,303.52 L81.65,302.74 L82.72,302.03 L83.79,301.39 L84.86,300.8 L85.93,300.26 L87,299.76 L88.07,299.3 L89.14,298.88 L90.21,298.48 L91.28,298.12 L92.35,297.77 L93.43,297.45 L94.5,297.14 L95.57,296.86 L96.64,296.58 L97.71,296.32 L98.78,296.07 L99.85,295.83 L100.92,295.6 L101.99,295.37 L103.06,295.16 L104.13,294.95 L105.2,294.74 L106.27,294.54 L107.34,294.34 L108.41,294.15 L109.48,293.96 L110.55,293.77 L111.62,293.59 L112.69,293.41 L113.76,293.23 L114.83,293.05 L115.9,292.87 L116.97,292.7 L118.04,292.53 L119.11,292.35 L120.18,292.18 L121.25,292.01 L122.32,291.84 L123.39,291.67 L124.46,291.5 L125.53,291.33 L126.6,291.16 L127.67,291 L128.74,290.83 L129.81,290.66 L130.88,290.5 L131.95,290.33 L133.02,290.16 L134.09,290 L135.16,289.83 L135.16,289.83 L135.41,302.35 L135.65,311.23 L135.9,317.56 L136.14,322.1 L136.38,325.4 L136.62,327.81 L136.87,329.61 L137.11,330.98 L137.35,332.04 L138.76,335.48 L140.16,337.55 L141.57,339.35 L142.97,341.01 L144.38,342.56 L145.78,344.02 L147.19,345.38 L148.59,346.66 L149.99,347.86 L151.4,348.98 L152.8,350.03 L154.21,351.02 L155.61,351.94 L157.02,352.81 L158.42,353.62 L159.82,354.38 L161.23,355.09 L162.63,355.76 L164.04,356.38 L165.44,356.97 L166.85,357.52 L168.25,358.03 L169.65,358.51 L171.06,358.96 L172.46,359.39 L173.87,359.78 L175.27,360.16 L176.68,360.5 L178.08,360.83 L179.48,361.14 L180.89,361.42 L182.29,361.69 L183.7,361.94 L185.1,362.18 L186.51,362.4 L187.91,362.48 L189.31,362.48 L190.72,362.49 L192.12,362.49 L193.53,362.5 L194.93,362.5 L196.34,362.51 L197.74,362.51 L199.15,362.52 L200.55,362.53 L201.95,362.53 L203.36,362.54 L204.76,362.54 L206.17,362.55 L207.57,362.55 L208.98,362.56 L210.38,362.57 L211.78,362.57 L213.19,362.58 L214.59,362.58 L216,362.59 L217.4,362.59 L218.81,362.6 L220.21,362.6" fill="none" stroke="#1a1a1a" stroke-width="1.05" stroke-linejoin="round"/>
<path d="M69.83,375.4 L69.83,375.4 L70.07,361.93 L70.32,352.53 L70.56,345.95 L70.8,341.3 L71.05,337.99 L71.29,335.61 L71.53,333.87 L71.78,332.57 L72.02,331.59 L73.09,329.07 L74.16,327.66 L75.23,326.55 L76.3,325.59 L77.37,324.73 L78.44,323.96 L79.51,323.26 L80.58,322.63 L81.65,322.06 L82.72,321.54 L83.79,321.07 L84.86,320.63 L85.93,320.24 L87,319.87 L88.07,319.54 L89.14,319.22 L90.21,318.94 L91.28,318.67 L92.35,318.41 L93.43,318.18 L94.5,317.95 L95.57,317.74 L96.64,317.54 L97.71,317.35 L98.78,317.16 L99.85,316.99 L100.92,316.82 L101.99,316.65 L103.06,316.49 L104.13,316.34 L105.2,316.19 L106.27,316.04 L107.34,315.89 L108.41,315.75 L109.48,315.61 L110.55,315.48 L111.62,315.34 L112.69,315.21 L113.76,315.08 L114.83,314.95 L115.9,314.82 L116.97,314.69 L118.04,314.56 L119.11,314.43 L120.18,314.31 L121.25,314.18 L122.32,314.06 L123.39,313.93 L124.46,313.81 L125.53,313.68 L126.6,313.56 L127.67,313.44 L128.74,313.32 L129.81,313.19 L130.88,313.07 L131.95,312.95 L133.02,312.83 L134.09,312.71 L135.16,312.58 L135.16,312.58 L135.41,320.54 L135.65,326.21 L135.9,330.27 L136.14,333.21 L136.38,335.36 L136.62,336.96 L136.87,338.17 L137.11,339.11 L137.35,339.86 L138.76,342.45 L140.16,344.15 L141.57,345.65 L142.97,347.05 L144.38,348.35 L145.78,349.58 L147.19,350.72 L148.59,351.8 L149.99,352.81 L151.4,353.75 L152.8,354.63 L154.21,355.46 L155.61,356.24 L157.02,356.97 L158.42,357.65 L159.82,358.29 L161.23,358.88 L162.63,359.45 L164.04,359.97 L165.44,360.46 L166.85,360.92 L168.25,361.36 L169.65,361.76 L171.06,362.14 L172.46,362.5 L173.87,362.83 L175.27,363.14 L176.68,363.44 L178.08,363.71 L179.48,363.97 L180.89,364.21 L182.29,364.43 L183.7,364.65 L185.1,364.84 L186.51,365.03 L187.91,365.09 L189.31,365.1 L190.72,365.1 L192.12,365.11 L193.53,365.11 L194.93,365.11 L196.34,365.12 L197.74,365.12 L199.15,365.13 L200.55,365.13 L201.95,365.13 L203.36,365.14 L204.76,365.14 L206.17,365.15 L207.57,365.15 L208.98,365.16 L210.38,365.16 L211.78,365.16 L213.19,365.17 L214.59,365.17 L216,365.18 L217.4,365.18 L218.81,365.18 L220.21,365.19" fill="none" stroke="#1a1a1a" stroke-width="1.05" stroke-linejoin="round"/>
<path d="M69.83,375.4 L69.83,375.4 L70.07,366.34 L70.32,359.82 L70.56,355.12 L70.8,351.7 L71.05,349.2 L71.29,347.36 L71.53,345.98 L71.78,344.94 L72.02,344.13 L73.09,342.08 L74.16,340.98 L75.23,340.16 L76.3,339.46 L77.37,338.84 L78.44,338.28 L79.51,337.78 L80.58,337.32 L81.65,336.91 L82.72,336.54 L83.79,336.19 L84.86,335.88 L85.93,335.6 L87,335.33 L88.07,335.09 L89.14,334.87 L90.21,334.66 L91.28,334.46 L92.35,334.28 L93.43,334.11 L94.5,333.95 L95.57,333.8 L96.64,333.65 L97.71,333.51 L98.78,333.38 L99.85,333.25 L100.92,333.13 L101.99,333.01 L103.06,332.9 L104.13,332.78 L105.2,332.67 L106.27,332.57 L107.34,332.46 L108.41,332.36 L109.48,332.26 L110.55,332.16 L111.62,332.07 L112.69,331.97 L113.76,331.87 L114.83,331.78 L115.9,331.69 L116.97,331.59 L118.04,331.5 L119.11,331.41 L120.18,331.32 L121.25,331.23 L122.32,331.14 L123.39,331.05 L124.46,330.96 L125.53,330.87 L126.6,330.78 L127.67,330.69 L128.74,330.6 L129.81,330.51 L130.88,330.43 L131.95,330.34 L133.02,330.25 L134.09,330.16 L135.16,330.07 L135.16,330.07 L135.41,335.02 L135.65,338.55 L135.9,341.11 L136.14,342.97 L136.38,344.35 L136.62,345.39 L136.87,346.19 L137.11,346.83 L137.35,347.34 L138.76,349.26 L140.16,350.61 L141.57,351.81 L142.97,352.94 L144.38,353.99 L145.78,354.98 L147.19,355.9 L148.59,356.76 L149.99,357.58 L151.4,358.34 L152.8,359.05 L154.21,359.72 L155.61,360.34 L157.02,360.93 L158.42,361.48 L159.82,361.99 L161.23,362.47 L162.63,362.92 L164.04,363.35 L165.44,363.74 L166.85,364.12 L168.25,364.46 L169.65,364.79 L171.06,365.1 L172.46,365.38 L173.87,365.65 L175.27,365.9 L176.68,366.14 L178.08,366.36 L179.48,366.57 L180.89,366.76 L182.29,366.94 L183.7,367.11 L185.1,367.27 L186.51,367.42 L187.91,367.47 L189.31,367.48 L190.72,367.48 L192.12,367.48 L193.53,367.48 L194.93,367.49 L196.34,367.49 L197.74,367.49 L199.15,367.5 L200.55,367.5 L201.95,367.5 L203.36,367.51 L204.76,367.51 L206.17,367.51 L207.57,367.51 L208.98,367.52 L210.38,367.52 L211.78,367.52 L213.19,367.53 L214.59,367.53 L216,367.53 L217.4,367.54 L218.81,367.54 L220.21,367.54" fill="none" stroke="#1a1a1a" stroke-width="1.05" stroke-linejoin="round"/>
<path d="M69.83,375.4 L69.83,375.4 L70.07,369.44 L70.32,365.05 L70.56,361.8 L70.8,359.39 L71.05,357.58 L71.29,356.23 L71.53,355.2 L71.78,354.4 L72.02,353.78 L73.09,352.19 L74.16,351.37 L75.23,350.77 L76.3,350.28 L77.37,349.84 L78.44,349.45 L79.51,349.1 L80.58,348.78 L81.65,348.5 L82.72,348.23 L83.79,348 L84.86,347.78 L85.93,347.58 L87,347.39 L88.07,347.22 L89.14,347.07 L90.21,346.92 L91.28,346.79 L92.35,346.66 L93.43,346.54 L94.5,346.43 L95.57,346.32 L96.64,346.22 L97.71,346.12 L98.78,346.03 L99.85,345.94 L100.92,345.85 L101.99,345.77 L103.06,345.69 L104.13,345.61 L105.2,345.54 L106.27,345.46 L107.34,345.39 L108.41,345.32 L109.48,345.25 L110.55,345.18 L111.62,345.11 L112.69,345.04 L113.76,344.98 L114.83,344.91 L115.9,344.84 L116.97,344.78 L118.04,344.72 L119.11,344.65 L120.18,344.59 L121.25,344.52 L122.32,344.46 L123.39,344.4 L124.46,344.34 L125.53,344.27 L126.6,344.21 L127.67,344.15 L128.74,344.09 L129.81,344.03 L130.88,343.96 L131.95,343.9 L133.02,343.84 L134.09,343.78 L135.16,343.72 L135.16,343.72 L135.41,346.65 L135.65,348.77 L135.9,350.31 L136.14,351.45 L136.38,352.3 L136.62,352.96 L136.87,353.47 L137.11,353.89 L137.35,354.23 L138.76,355.6 L140.16,356.62 L141.57,357.55 L142.97,358.41 L144.38,359.22 L145.78,359.98 L147.19,360.68 L148.59,361.35 L149.99,361.97 L151.4,362.55 L152.8,363.1 L154.21,363.61 L155.61,364.09 L157.02,364.54 L158.42,364.96 L159.82,365.36 L161.23,365.73 L162.63,366.07 L164.04,366.4 L165.44,366.7 L166.85,366.99 L168.25,367.26 L169.65,367.51 L171.06,367.74 L172.46,367.96 L173.87,368.17 L175.27,368.36 L176.68,368.54 L178.08,368.71 L179.48,368.87 L180.89,369.02 L182.29,369.16 L183.7,369.29 L185.1,369.41 L186.51,369.53 L187.91,369.57 L189.31,369.57 L190.72,369.57 L192.12,369.57 L193.53,369.57 L194.93,369.58 L196.34,369.58 L197.74,369.58 L199.15,369.58 L200.55,369.58 L201.95,369.59 L203.36,369.59 L204.76,369.59 L206.17,369.59 L207.57,369.6 L208.98,369.6 L210.38,369.6 L211.78,369.6 L213.19,369.6 L214.59,369.61 L216,369.61 L217.4,369.61 L218.81,369.61 L220.21,369.61" fill="none" stroke="#1a1a1a" stroke-width="1.05" stroke-linejoin="round"/>
<path d="M69.83,375.4 L69.83,375.4 L70.07,370.87 L70.32,367.49 L70.56,364.97 L70.8,363.07 L71.05,361.64 L71.29,360.55 L71.53,359.71 L71.78,359.06 L72.02,358.55 L73.09,357.24 L74.16,356.56 L75.23,356.09 L76.3,355.7 L77.37,355.35 L78.44,355.05 L79.51,354.77 L80.58,354.52 L81.65,354.3 L82.72,354.09 L83.79,353.9 L84.86,353.73 L85.93,353.58 L87,353.43 L88.07,353.3 L89.14,353.18 L90.21,353.06 L91.28,352.95 L92.35,352.85 L93.43,352.76 L94.5,352.67 L95.57,352.59 L96.64,352.51 L97.71,352.43 L98.78,352.36 L99.85,352.29 L100.92,352.22 L101.99,352.16 L103.06,352.1 L104.13,352.03 L105.2,351.97 L106.27,351.92 L107.34,351.86 L108.41,351.8 L109.48,351.75 L110.55,351.69 L111.62,351.64 L112.69,351.59 L113.76,351.54 L114.83,351.48 L115.9,351.43 L116.97,351.38 L118.04,351.33 L119.11,351.28 L120.18,351.23 L121.25,351.18 L122.32,351.13 L123.39,351.08 L124.46,351.03 L125.53,350.98 L126.6,350.94 L127.67,350.89 L128.74,350.84 L129.81,350.79 L130.88,350.74 L131.95,350.69 L133.02,350.65 L134.09,350.6 L135.16,350.55 L135.16,350.55 L135.41,352.62 L135.65,354.11 L135.9,355.21 L136.14,356.03 L136.38,356.64 L136.62,357.12 L136.87,357.51 L137.11,357.82 L137.35,358.09 L138.76,359.17 L140.16,360.01 L141.57,360.78 L142.97,361.49 L144.38,362.15 L145.78,362.78 L147.19,363.36 L148.59,363.91 L149.99,364.43 L151.4,364.91 L152.8,365.36 L154.21,365.78 L155.61,366.18 L157.02,366.55 L158.42,366.9 L159.82,367.22 L161.23,367.53 L162.63,367.82 L164.04,368.08 L165.44,368.34 L166.85,368.57 L168.25,368.79 L169.65,369 L171.06,369.19 L172.46,369.37 L173.87,369.54 L175.27,369.7 L176.68,369.85 L178.08,369.99 L179.48,370.12 L180.89,370.25 L182.29,370.36 L183.7,370.47 L185.1,370.57 L186.51,370.67 L187.91,370.7 L189.31,370.7 L190.72,370.7 L192.12,370.7 L193.53,370.71 L194.93,370.71 L196.34,370.71 L197.74,370.71 L199.15,370.71 L200.55,370.71 L201.95,370.71 L203.36,370.72 L204.76,370.72 L206.17,370.72 L207.57,370.72 L208.98,370.72 L210.38,370.72 L211.78,370.73 L213.19,370.73 L214.59,370.73 L216,370.73 L217.4,370.73 L218.81,370.73 L220.21,370.74" fill="none" stroke="#1a1a1a" stroke-width="1.05" stroke-linejoin="round"/>
<path d="M69.83,375.4 L69.83,375.4 L70.07,371.85 L70.32,369.18 L70.56,367.17 L70.8,365.65 L71.05,364.48 L71.29,363.6 L71.53,362.91 L71.78,362.37 L72.02,361.95 L73.09,360.85 L74.16,360.29 L75.23,359.9 L76.3,359.59 L77.37,359.31 L78.44,359.07 L79.51,358.84 L80.58,358.64 L81.65,358.46 L82.72,358.3 L83.79,358.15 L84.86,358.01 L85.93,357.89 L87,357.77 L88.07,357.66 L89.14,357.56 L90.21,357.47 L91.28,357.39 L92.35,357.31 L93.43,357.23 L94.5,357.16 L95.57,357.09 L96.64,357.03 L97.71,356.97 L98.78,356.91 L99.85,356.85 L100.92,356.8 L101.99,356.75 L103.06,356.7 L104.13,356.65 L105.2,356.6 L106.27,356.55 L107.34,356.51 L108.41,356.46 L109.48,356.42 L110.55,356.37 L111.62,356.33 L112.69,356.29 L113.76,356.25 L114.83,356.21 L115.9,356.16 L116.97,356.12 L118.04,356.08 L119.11,356.04 L120.18,356 L121.25,355.96 L122.32,355.92 L123.39,355.88 L124.46,355.84 L125.53,355.81 L126.6,355.77 L127.67,355.73 L128.74,355.69 L129.81,355.65 L130.88,355.61 L131.95,355.57 L133.02,355.53 L134.09,355.49 L135.16,355.46 L135.16,355.46 L135.41,356.96 L135.65,358.06 L135.9,358.86 L136.14,359.47 L136.38,359.93 L136.62,360.3 L136.87,360.59 L137.11,360.84 L137.35,361.05 L138.76,361.93 L140.16,362.63 L141.57,363.26 L142.97,363.86 L144.38,364.41 L145.78,364.93 L147.19,365.42 L148.59,365.88 L149.99,366.31 L151.4,366.71 L152.8,367.09 L154.21,367.44 L155.61,367.77 L157.02,368.08 L158.42,368.37 L159.82,368.65 L161.23,368.9 L162.63,369.14 L164.04,369.37 L165.44,369.58 L166.85,369.77 L168.25,369.96 L169.65,370.13 L171.06,370.29 L172.46,370.44 L173.87,370.58 L175.27,370.72 L176.68,370.84 L178.08,370.96 L179.48,371.07 L180.89,371.17 L182.29,371.27 L183.7,371.36 L185.1,371.44 L186.51,371.52 L187.91,371.55 L189.31,371.55 L190.72,371.55 L192.12,371.55 L193.53,371.55 L194.93,371.56 L196.34,371.56 L197.74,371.56 L199.15,371.56 L200.55,371.56 L201.95,371.56 L203.36,371.56 L204.76,371.56 L206.17,371.57 L207.57,371.57 L208.98,371.57 L210.38,371.57 L211.78,371.57 L213.19,371.57 L214.59,371.57 L216,371.58 L217.4,371.58 L218.81,371.58 L220.21,371.58" fill="none" stroke="#1a1a1a" stroke-width="1.05" stroke-linejoin="round"/>
<path d="M69.83,375.4 L69.83,375.4 L70.07,372.42 L70.32,370.17 L70.56,368.47 L70.8,367.17 L71.05,366.18 L71.29,365.41 L71.53,364.82 L71.78,364.36 L72.02,363.99 L73.09,363.03 L74.16,362.54 L75.23,362.21 L76.3,361.94 L77.37,361.7 L78.44,361.49 L79.51,361.31 L80.58,361.14 L81.65,360.98 L82.72,360.84 L83.79,360.71 L84.86,360.6 L85.93,360.49 L87,360.39 L88.07,360.3 L89.14,360.22 L90.21,360.14 L91.28,360.06 L92.35,360 L93.43,359.93 L94.5,359.87 L95.57,359.81 L96.64,359.76 L97.71,359.71 L98.78,359.66 L99.85,359.61 L100.92,359.56 L101.99,359.52 L103.06,359.48 L104.13,359.44 L105.2,359.39 L106.27,359.35 L107.34,359.32 L108.41,359.28 L109.48,359.24 L110.55,359.2 L111.62,359.17 L112.69,359.13 L113.76,359.09 L114.83,359.06 L115.9,359.02 L116.97,358.99 L118.04,358.95 L119.11,358.92 L120.18,358.89 L121.25,358.85 L122.32,358.82 L123.39,358.79 L124.46,358.75 L125.53,358.72 L126.6,358.69 L127.67,358.65 L128.74,358.62 L129.81,358.59 L130.88,358.55 L131.95,358.52 L133.02,358.49 L134.09,358.45 L135.16,358.42 L135.16,358.42 L135.41,359.62 L135.65,360.49 L135.9,361.14 L136.14,361.62 L136.38,362 L136.62,362.3 L136.87,362.54 L137.11,362.74 L137.35,362.92 L138.76,363.68 L140.16,364.28 L141.57,364.84 L142.97,365.36 L144.38,365.85 L145.78,366.3 L147.19,366.73 L148.59,367.13 L149.99,367.5 L151.4,367.85 L152.8,368.18 L154.21,368.49 L155.61,368.78 L157.02,369.05 L158.42,369.31 L159.82,369.54 L161.23,369.77 L162.63,369.98 L164.04,370.17 L165.44,370.36 L166.85,370.53 L168.25,370.69 L169.65,370.84 L171.06,370.98 L172.46,371.11 L173.87,371.24 L175.27,371.35 L176.68,371.46 L178.08,371.56 L179.48,371.66 L180.89,371.75 L182.29,371.83 L183.7,371.91 L185.1,371.99 L186.51,372.06 L187.91,372.08 L189.31,372.08 L190.72,372.08 L192.12,372.08 L193.53,372.08 L194.93,372.08 L196.34,372.09 L197.74,372.09 L199.15,372.09 L200.55,372.09 L201.95,372.09 L203.36,372.09 L204.76,372.09 L206.17,372.09 L207.57,372.09 L208.98,372.1 L210.38,372.1 L211.78,372.1 L213.19,372.1 L214.59,372.1 L216,372.1 L217.4,372.1 L218.81,372.1 L220.21,372.1" fill="none" stroke="#1a1a1a" stroke-width="1.05" stroke-linejoin="round"/>
<path d="M69.83,375.4 L69.83,375.4 L70.07,372.89 L70.32,370.98 L70.56,369.52 L70.8,368.41 L71.05,367.56 L71.29,366.9 L71.53,366.39 L71.78,365.98 L72.02,365.67 L73.09,364.83 L74.16,364.41 L75.23,364.12 L76.3,363.89 L77.37,363.68 L78.44,363.5 L79.51,363.34 L80.58,363.2 L81.65,363.06 L82.72,362.94 L83.79,362.84 L84.86,362.74 L85.93,362.64 L87,362.56 L88.07,362.48 L89.14,362.41 L90.21,362.34 L91.28,362.28 L92.35,362.22 L93.43,362.17 L94.5,362.12 L95.57,362.07 L96.64,362.02 L97.71,361.98 L98.78,361.93 L99.85,361.89 L100.92,361.85 L101.99,361.81 L103.06,361.78 L104.13,361.74 L105.2,361.71 L106.27,361.67 L107.34,361.64 L108.41,361.61 L109.48,361.57 L110.55,361.54 L111.62,361.51 L112.69,361.48 L113.76,361.45 L114.83,361.42 L115.9,361.39 L116.97,361.36 L118.04,361.33 L119.11,361.3 L120.18,361.27 L121.25,361.24 L122.32,361.21 L123.39,361.19 L124.46,361.16 L125.53,361.13 L126.6,361.1 L127.67,361.07 L128.74,361.04 L129.81,361.02 L130.88,360.99 L131.95,360.96 L133.02,360.93 L134.09,360.9 L135.16,360.87 L135.16,360.87 L135.41,361.83 L135.65,362.53 L135.9,363.05 L136.14,363.45 L136.38,363.76 L136.62,364 L136.87,364.2 L137.11,364.37 L137.35,364.52 L138.76,365.18 L140.16,365.71 L141.57,366.19 L142.97,366.65 L144.38,367.07 L145.78,367.47 L147.19,367.84 L148.59,368.19 L149.99,368.52 L151.4,368.83 L152.8,369.12 L154.21,369.39 L155.61,369.64 L157.02,369.88 L158.42,370.1 L159.82,370.31 L161.23,370.5 L162.63,370.69 L164.04,370.86 L165.44,371.02 L166.85,371.17 L168.25,371.31 L169.65,371.44 L171.06,371.57 L172.46,371.68 L173.87,371.79 L175.27,371.89 L176.68,371.99 L178.08,372.08 L179.48,372.16 L180.89,372.24 L182.29,372.31 L183.7,372.38 L185.1,372.45 L186.51,372.51 L187.91,372.53 L189.31,372.53 L190.72,372.53 L192.12,372.53 L193.53,372.53 L194.93,372.53 L196.34,372.53 L197.74,372.53 L199.15,372.54 L200.55,372.54 L201.95,372.54 L203.36,372.54 L204.76,372.54 L206.17,372.54 L207.57,372.54 L208.98,372.54 L210.38,372.54 L211.78,372.54 L213.19,372.54 L214.59,372.55 L216,372.55 L217.4,372.55 L218.81,372.55 L220.21,372.55" fill="none" stroke="#1a1a1a" stroke-width="1.05" stroke-linejoin="round"/>
<path d="M69.83,375.4 L69.83,375.4 L70.07,373.3 L70.32,371.71 L70.56,370.49 L70.8,369.55 L71.05,368.83 L71.29,368.27 L71.53,367.83 L71.78,367.49 L72.02,367.21 L73.09,366.5 L74.16,366.13 L75.23,365.89 L76.3,365.69 L77.37,365.52 L78.44,365.37 L79.51,365.23 L80.58,365.11 L81.65,365 L82.72,364.9 L83.79,364.8 L84.86,364.72 L85.93,364.64 L87,364.57 L88.07,364.51 L89.14,364.45 L90.21,364.39 L91.28,364.34 L92.35,364.29 L93.43,364.24 L94.5,364.2 L95.57,364.16 L96.64,364.12 L97.71,364.08 L98.78,364.04 L99.85,364.01 L100.92,363.98 L101.99,363.94 L103.06,363.91 L104.13,363.88 L105.2,363.85 L106.27,363.82 L107.34,363.8 L108.41,363.77 L109.48,363.74 L110.55,363.72 L111.62,363.69 L112.69,363.66 L113.76,363.64 L114.83,363.61 L115.9,363.59 L116.97,363.56 L118.04,363.54 L119.11,363.51 L120.18,363.49 L121.25,363.46 L122.32,363.44 L123.39,363.41 L124.46,363.39 L125.53,363.37 L126.6,363.34 L127.67,363.32 L128.74,363.29 L129.81,363.27 L130.88,363.25 L131.95,363.22 L133.02,363.2 L134.09,363.17 L135.16,363.15 L135.16,363.15 L135.41,363.9 L135.65,364.45 L135.9,364.87 L136.14,365.18 L136.38,365.43 L136.62,365.63 L136.87,365.79 L137.11,365.94 L137.35,366.06 L138.76,366.61 L140.16,367.07 L141.57,367.49 L142.97,367.88 L144.38,368.25 L145.78,368.59 L147.19,368.91 L148.59,369.22 L149.99,369.5 L151.4,369.76 L152.8,370.01 L154.21,370.24 L155.61,370.46 L157.02,370.67 L158.42,370.86 L159.82,371.04 L161.23,371.21 L162.63,371.36 L164.04,371.51 L165.44,371.65 L166.85,371.78 L168.25,371.9 L169.65,372.02 L171.06,372.12 L172.46,372.22 L173.87,372.32 L175.27,372.4 L176.68,372.49 L178.08,372.56 L179.48,372.64 L180.89,372.7 L182.29,372.77 L183.7,372.83 L185.1,372.88 L186.51,372.93 L187.91,372.95 L189.31,372.95 L190.72,372.95 L192.12,372.95 L193.53,372.95 L194.93,372.96 L196.34,372.96 L197.74,372.96 L199.15,372.96 L200.55,372.96 L201.95,372.96 L203.36,372.96 L204.76,372.96 L206.17,372.96 L207.57,372.96 L208.98,372.96 L210.38,372.96 L211.78,372.97 L213.19,372.97 L214.59,372.97 L216,372.97 L217.4,372.97 L218.81,372.97 L220.21,372.97" fill="none" stroke="#1a1a1a" stroke-width="1.05" stroke-linejoin="round"/>
<path d="M69.83,375.4 L69.83,375.4 L70.07,373.62 L70.32,372.26 L70.56,371.22 L70.8,370.41 L71.05,369.79 L71.29,369.31 L71.53,368.93 L71.78,368.63 L72.02,368.4 L73.09,367.77 L74.16,367.46 L75.23,367.25 L76.3,367.08 L77.37,366.93 L78.44,366.8 L79.51,366.68 L80.58,366.58 L81.65,366.48 L82.72,366.4 L83.79,366.32 L84.86,366.24 L85.93,366.18 L87,366.12 L88.07,366.06 L89.14,366.01 L90.21,365.96 L91.28,365.92 L92.35,365.87 L93.43,365.83 L94.5,365.8 L95.57,365.76 L96.64,365.73 L97.71,365.69 L98.78,365.66 L99.85,365.63 L100.92,365.61 L101.99,365.58 L103.06,365.55 L104.13,365.53 L105.2,365.5 L106.27,365.48 L107.34,365.45 L108.41,365.43 L109.48,365.4 L110.55,365.38 L111.62,365.36 L112.69,365.34 L113.76,365.32 L114.83,365.29 L115.9,365.27 L116.97,365.25 L118.04,365.23 L119.11,365.21 L120.18,365.19 L121.25,365.17 L122.32,365.14 L123.39,365.12 L124.46,365.1 L125.53,365.08 L126.6,365.06 L127.67,365.04 L128.74,365.02 L129.81,365 L130.88,364.98 L131.95,364.96 L133.02,364.94 L134.09,364.92 L135.16,364.9 L135.16,364.9 L135.41,365.5 L135.65,365.95 L135.9,366.28 L136.14,366.54 L136.38,366.74 L136.62,366.91 L136.87,367.05 L137.11,367.17 L137.35,367.27 L138.76,367.75 L140.16,368.15 L141.57,368.51 L142.97,368.85 L144.38,369.17 L145.78,369.47 L147.19,369.76 L148.59,370.02 L149.99,370.27 L151.4,370.5 L152.8,370.72 L154.21,370.92 L155.61,371.11 L157.02,371.29 L158.42,371.46 L159.82,371.61 L161.23,371.76 L162.63,371.9 L164.04,372.03 L165.44,372.15 L166.85,372.26 L168.25,372.37 L169.65,372.47 L171.06,372.56 L172.46,372.65 L173.87,372.73 L175.27,372.8 L176.68,372.88 L178.08,372.94 L179.48,373.01 L180.89,373.07 L182.29,373.12 L183.7,373.17 L185.1,373.22 L186.51,373.27 L187.91,373.28 L189.31,373.28 L190.72,373.28 L192.12,373.28 L193.53,373.29 L194.93,373.29 L196.34,373.29 L197.74,373.29 L199.15,373.29 L200.55,373.29 L201.95,373.29 L203.36,373.29 L204.76,373.29 L206.17,373.29 L207.57,373.29 L208.98,373.29 L210.38,373.29 L211.78,373.29 L213.19,373.3 L214.59,373.3 L216,373.3 L217.4,373.3 L218.81,373.3 L220.21,373.3" fill="none" stroke="#1a1a1a" stroke-width="1.05" stroke-linejoin="round"/>
<path d="M69.83,375.4 L69.83,375.4 L70.07,373.87 L70.32,372.69 L70.56,371.79 L70.8,371.09 L71.05,370.56 L71.29,370.14 L71.53,369.81 L71.78,369.55 L72.02,369.34 L73.09,368.79 L74.16,368.51 L75.23,368.33 L76.3,368.18 L77.37,368.05 L78.44,367.94 L79.51,367.84 L80.58,367.75 L81.65,367.67 L82.72,367.59 L83.79,367.52 L84.86,367.46 L85.93,367.4 L87,367.35 L88.07,367.3 L89.14,367.26 L90.21,367.21 L91.28,367.17 L92.35,367.14 L93.43,367.1 L94.5,367.07 L95.57,367.04 L96.64,367.01 L97.71,366.98 L98.78,366.96 L99.85,366.93 L100.92,366.91 L101.99,366.88 L103.06,366.86 L104.13,366.84 L105.2,366.81 L106.27,366.79 L107.34,366.77 L108.41,366.75 L109.48,366.73 L110.55,366.71 L111.62,366.69 L112.69,366.67 L113.76,366.65 L114.83,366.64 L115.9,366.62 L116.97,366.6 L118.04,366.58 L119.11,366.56 L120.18,366.54 L121.25,366.52 L122.32,366.51 L123.39,366.49 L124.46,366.47 L125.53,366.45 L126.6,366.43 L127.67,366.42 L128.74,366.4 L129.81,366.38 L130.88,366.36 L131.95,366.35 L133.02,366.33 L134.09,366.31 L135.16,366.29 L135.16,366.29 L135.41,366.79 L135.65,367.15 L135.9,367.43 L136.14,367.64 L136.38,367.81 L136.62,367.95 L136.87,368.07 L137.11,368.17 L137.35,368.26 L138.76,368.68 L140.16,369.03 L141.57,369.35 L142.97,369.65 L144.38,369.93 L145.78,370.2 L147.19,370.44 L148.59,370.68 L149.99,370.89 L151.4,371.1 L152.8,371.29 L154.21,371.47 L155.61,371.64 L157.02,371.79 L158.42,371.94 L159.82,372.08 L161.23,372.21 L162.63,372.33 L164.04,372.44 L165.44,372.55 L166.85,372.65 L168.25,372.74 L169.65,372.83 L171.06,372.91 L172.46,372.99 L173.87,373.06 L175.27,373.13 L176.68,373.19 L178.08,373.25 L179.48,373.31 L180.89,373.36 L182.29,373.41 L183.7,373.45 L185.1,373.5 L186.51,373.54 L187.91,373.55 L189.31,373.55 L190.72,373.55 L192.12,373.55 L193.53,373.55 L194.93,373.55 L196.34,373.55 L197.74,373.55 L199.15,373.56 L200.55,373.56 L201.95,373.56 L203.36,373.56 L204.76,373.56 L206.17,373.56 L207.57,373.56 L208.98,373.56 L210.38,373.56 L211.78,373.56 L213.19,373.56 L214.59,373.56 L216,373.56 L217.4,373.56 L218.81,373.56 L220.21,373.56" fill="none" stroke="#1a1a1a" stroke-width="1.05" stroke-linejoin="round"/>
<line x1="179.8" y1="267.7" x2="235.2" y2="267.7" stroke="#4a4a4a" stroke-width="0.7"/>
<line x1="179.8" y1="229.9" x2="179.8" y2="267.7" stroke="#4a4a4a" stroke-width="0.7"/>
<line x1="179.8" y1="267.7" x2="179.8" y2="268.7" stroke="#4a4a4a" stroke-width="0.63"/>
<text x="179.9" y="274.9" font-size="4.0" font-family='"Liberation Sans", sans-serif' font-weight="bold" text-anchor="middle" fill="#111" letter-spacing="0.2">0</text>
<line x1="190.88" y1="267.7" x2="190.88" y2="268.7" stroke="#4a4a4a" stroke-width="0.63"/>
<text x="190.98" y="274.9" font-size="4.0" font-family='"Liberation Sans", sans-serif' font-weight="bold" text-anchor="middle" fill="#111" letter-spacing="0.2">2</text>
<line x1="201.96" y1="267.7" x2="201.96" y2="268.7" stroke="#4a4a4a" stroke-width="0.63"/>
<text x="202.06" y="274.9" font-size="4.0" font-family='"Liberation Sans", sans-serif' font-weight="bold" text-anchor="middle" fill="#111" letter-spacing="0.2">4</text>
<line x1="213.04" y1="267.7" x2="213.04" y2="268.7" stroke="#4a4a4a" stroke-width="0.63"/>
<text x="213.14" y="274.9" font-size="4.0" font-family='"Liberation Sans", sans-serif' font-weight="bold" text-anchor="middle" fill="#111" letter-spacing="0.2">6</text>
<line x1="224.12" y1="267.7" x2="224.12" y2="268.7" stroke="#4a4a4a" stroke-width="0.63"/>
<text x="224.22" y="274.9" font-size="4.0" font-family='"Liberation Sans", sans-serif' font-weight="bold" text-anchor="middle" fill="#111" letter-spacing="0.2">8</text>
<line x1="235.2" y1="267.7" x2="235.2" y2="268.7" stroke="#4a4a4a" stroke-width="0.63"/>
<text x="235.3" y="274.9" font-size="4.0" font-family='"Liberation Sans", sans-serif' font-weight="bold" text-anchor="middle" fill="#111" letter-spacing="0.2">10</text>
<line x1="178.8" y1="267.7" x2="179.8" y2="267.7" stroke="#4a4a4a" stroke-width="0.63"/>
<text x="177.2" y="269.3" font-size="4.0" font-family='"Liberation Sans", sans-serif' font-weight="bold" text-anchor="end" fill="#111" letter-spacing="0.2">0</text>
<line x1="178.8" y1="258.48" x2="179.8" y2="258.48" stroke="#4a4a4a" stroke-width="0.63"/>
<text x="177.2" y="260.08" font-size="4.0" font-family='"Liberation Sans", sans-serif' font-weight="bold" text-anchor="end" fill="#111" letter-spacing="0.2">200</text>
<line x1="178.8" y1="249.26" x2="179.8" y2="249.26" stroke="#4a4a4a" stroke-width="0.63"/>
<text x="177.2" y="250.86" font-size="4.0" font-family='"Liberation Sans", sans-serif' font-weight="bold" text-anchor="end" fill="#111" letter-spacing="0.2">400</text>
<line x1="178.8" y1="240.04" x2="179.8" y2="240.04" stroke="#4a4a4a" stroke-width="0.63"/>
<text x="177.2" y="241.64" font-size="4.0" font-family='"Liberation Sans", sans-serif' font-weight="bold" text-anchor="end" fill="#111" letter-spacing="0.2">600</text>
<line x1="178.8" y1="230.82" x2="179.8" y2="230.82" stroke="#4a4a4a" stroke-width="0.63"/>
<text x="177.2" y="232.42" font-size="4.0" font-family='"Liberation Sans", sans-serif' font-weight="bold" text-anchor="end" fill="#111" letter-spacing="0.2">800</text>
<path d="M179.8,265.63 L180.35,263.32 L181.46,260.78 L182.57,258.71 L183.96,256.73 L185.34,255.62 L188.11,253.41 L190.88,252.03 L196.42,249.26 L204.73,245.89 L213.04,243.5 L221.35,240.96 L235.2,236.12" fill="none" stroke="#1a1a1a" stroke-width="1.1" stroke-linejoin="round"/>
<text x="207.2" y="283" font-size="5.9" font-family='"Liberation Serif", serif' font-weight="normal" text-anchor="middle" fill="#111" stroke="#111" stroke-width="0.2">Defensin (uM)</text>
<text x="166" y="250.2" font-size="6.2" font-family='"Liberation Serif", serif' font-weight="normal" text-anchor="middle" fill="#111" transform="rotate(-90 166 250.2)" stroke="#111" stroke-width="0.2">Req (RU)</text>
<line x1="178.2" y1="328" x2="239.6" y2="328" stroke="#4a4a4a" stroke-width="0.7"/>
<line x1="199.4" y1="296.8" x2="199.4" y2="328" stroke="#4a4a4a" stroke-width="0.7"/>
<line x1="178.7" y1="328" x2="178.7" y2="329" stroke="#4a4a4a" stroke-width="0.63"/>
<text x="178.85" y="335.9" font-size="4.6" font-family='"Liberation Sans", sans-serif' font-weight="bold" text-anchor="middle" fill="#111" letter-spacing="0.3">0</text>
<line x1="199.06" y1="328" x2="199.06" y2="329" stroke="#4a4a4a" stroke-width="0.63"/>
<text x="199.21" y="335.9" font-size="4.6" font-family='"Liberation Sans", sans-serif' font-weight="bold" text-anchor="middle" fill="#111" letter-spacing="0.3">200</text>
<line x1="219.42" y1="328" x2="219.42" y2="329" stroke="#4a4a4a" stroke-width="0.63"/>
<text x="219.57" y="335.9" font-size="4.6" font-family='"Liberation Sans", sans-serif' font-weight="bold" text-anchor="middle" fill="#111" letter-spacing="0.3">400</text>
<line x1="239.78" y1="328" x2="239.78" y2="329" stroke="#4a4a4a" stroke-width="0.63"/>
<text x="239.93" y="335.9" font-size="4.6" font-family='"Liberation Sans", sans-serif' font-weight="bold" text-anchor="middle" fill="#111" letter-spacing="0.3">600</text>
<line x1="198.4" y1="328" x2="199.4" y2="328" stroke="#4a4a4a" stroke-width="0.63"/>
<text x="196.1" y="329.84" font-size="4.6" font-family='"Liberation Sans", sans-serif' font-weight="bold" text-anchor="end" fill="#111" letter-spacing="0.3">0</text>
<line x1="198.4" y1="315.2" x2="199.4" y2="315.2" stroke="#4a4a4a" stroke-width="0.63"/>
<text x="196.1" y="317.04" font-size="4.6" font-family='"Liberation Sans", sans-serif' font-weight="bold" text-anchor="end" fill="#111" letter-spacing="0.3">20</text>
<line x1="198.4" y1="302.4" x2="199.4" y2="302.4" stroke="#4a4a4a" stroke-width="0.63"/>
<text x="196.1" y="304.24" font-size="4.6" font-family='"Liberation Sans", sans-serif' font-weight="bold" text-anchor="end" fill="#111" letter-spacing="0.3">40</text>
<path d="M210.26,308.16 L210.82,313.46 L211.38,317.04 L211.94,319.5 L212.5,321.24 L213.06,322.5 L213.62,323.44 L214.18,324.15 L214.75,324.72 L215.31,325.17 L215.87,325.55 L216.43,325.86 L216.99,326.13 L217.55,326.35 L218.11,326.55 L218.67,326.72 L219.23,326.87 L219.79,327.01 L220.35,327.12 L220.92,327.22 L221.48,327.31 L222.04,327.39 L222.6,327.46 L223.16,327.52 L223.72,327.58 L224.28,327.63 L224.84,327.67 L225.4,327.71 L225.96,327.74 L226.53,327.77 L227.09,327.8 L227.65,327.82 L228.21,327.84 L228.77,327.86 L229.33,327.88 L229.89,327.89 L230.45,327.9 L231.01,327.91 L231.57,327.92 L232.13,327.93 L232.7,327.94 L233.26,327.95 L233.82,327.95 L234.38,327.96 L234.94,327.96 L235.5,327.97 L236.06,327.97 L236.62,327.97 L237.18,327.98 L237.74,327.98" fill="none" stroke="#1a1a1a" stroke-width="1.0" stroke-linejoin="round"/>
<text x="209.3" y="341.2" font-size="6.0" font-family='"Liberation Sans", sans-serif' font-weight="normal" text-anchor="middle" fill="#111">Response (RU)</text>
<text x="174.5" y="312.7" font-size="6.0" font-family='"Liberation Sans", sans-serif' font-weight="normal" text-anchor="middle" fill="#111" transform="rotate(-90 174.5 312.7)">dR/dt</text>
<rect x="264.2" y="212.8" width="253.6" height="197.6" fill="none" stroke="#7c7c7c" stroke-width="1.35"/>
<line x1="293.5" y1="376.1" x2="502.5" y2="376.1" stroke="#4a4a4a" stroke-width="0.9"/>
<line x1="307.5" y1="233.28" x2="307.5" y2="376.1" stroke="#4a4a4a" stroke-width="0.9"/>
<line x1="349.52" y1="376.1" x2="349.52" y2="378.1" stroke="#4a4a4a" stroke-width="0.81"/>
<line x1="404.84" y1="376.1" x2="404.84" y2="378.1" stroke="#4a4a4a" stroke-width="0.81"/>
<line x1="460.16" y1="376.1" x2="460.16" y2="378.1" stroke="#4a4a4a" stroke-width="0.81"/>
<line x1="305.5" y1="376.1" x2="307.5" y2="376.1" stroke="#4a4a4a" stroke-width="0.81"/>
<text x="302.6" y="378.62" font-size="7.0" font-family='"Liberation Sans", sans-serif' font-weight="normal" text-anchor="end" fill="#111" letter-spacing="0.5" stroke="#222" stroke-width="0.18">0</text>
<line x1="305.5" y1="352.38" x2="307.5" y2="352.38" stroke="#4a4a4a" stroke-width="0.81"/>
<text x="302.6" y="354.9" font-size="7.0" font-family='"Liberation Sans", sans-serif' font-weight="normal" text-anchor="end" fill="#111" letter-spacing="0.5" stroke="#222" stroke-width="0.18">100</text>
<line x1="305.5" y1="328.66" x2="307.5" y2="328.66" stroke="#4a4a4a" stroke-width="0.81"/>
<text x="302.6" y="331.18" font-size="7.0" font-family='"Liberation Sans", sans-serif' font-weight="normal" text-anchor="end" fill="#111" letter-spacing="0.5" stroke="#222" stroke-width="0.18">200</text>
<line x1="305.5" y1="304.94" x2="307.5" y2="304.94" stroke="#4a4a4a" stroke-width="0.81"/>
<text x="302.6" y="307.46" font-size="7.0" font-family='"Liberation Sans", sans-serif' font-weight="normal" text-anchor="end" fill="#111" letter-spacing="0.5" stroke="#222" stroke-width="0.18">300</text>
<line x1="305.5" y1="281.22" x2="307.5" y2="281.22" stroke="#4a4a4a" stroke-width="0.81"/>
<text x="302.6" y="283.74" font-size="7.0" font-family='"Liberation Sans", sans-serif' font-weight="normal" text-anchor="end" fill="#111" letter-spacing="0.5" stroke="#222" stroke-width="0.18">400</text>
<line x1="305.5" y1="257.5" x2="307.5" y2="257.5" stroke="#4a4a4a" stroke-width="0.81"/>
<text x="302.6" y="260.02" font-size="7.0" font-family='"Liberation Sans", sans-serif' font-weight="normal" text-anchor="end" fill="#111" letter-spacing="0.5" stroke="#222" stroke-width="0.18">500</text>
<line x1="305.5" y1="233.78" x2="307.5" y2="233.78" stroke="#4a4a4a" stroke-width="0.81"/>
<text x="302.6" y="236.3" font-size="7.0" font-family='"Liberation Sans", sans-serif' font-weight="normal" text-anchor="end" fill="#111" letter-spacing="0.5" stroke="#222" stroke-width="0.18">600</text>
<text x="294.45" y="389.6" font-size="7.0" font-family='"Liberation Sans", sans-serif' font-weight="normal" text-anchor="middle" fill="#111" letter-spacing="0.5">0</text>
<text x="349.77" y="389.6" font-size="7.0" font-family='"Liberation Sans", sans-serif' font-weight="normal" text-anchor="middle" fill="#111" letter-spacing="0.5">200</text>
<text x="405.09" y="389.6" font-size="7.0" font-family='"Liberation Sans", sans-serif' font-weight="normal" text-anchor="middle" fill="#111" letter-spacing="0.5">400</text>
<text x="460.41" y="389.6" font-size="7.0" font-family='"Liberation Sans", sans-serif' font-weight="normal" text-anchor="middle" fill="#111" letter-spacing="0.5">600</text>
<text x="310.6" y="228.8" font-size="10" font-family='"Liberation Sans", sans-serif' font-weight="bold" text-anchor="start" fill="#111" stroke="#111" stroke-width="0.35">D</text>
<text x="331.6" y="228.2" font-size="9.7" font-family='"Liberation Serif", serif' font-weight="bold" text-anchor="start" fill="#111">r-apo(a)</text>
<text x="282" y="304.3" font-size="9.8" font-family='"Liberation Serif", serif' font-weight="bold" text-anchor="middle" fill="#111" transform="rotate(-90 282 304.3)">Response (RU)</text>
<text x="398" y="402.7" font-size="9.7" font-family='"Liberation Serif", serif' font-weight="bold" text-anchor="middle" fill="#111">Time (s)</text>
<path d="M293.4,378.5 L293.6,376.6 L296.5,376.1" stroke="#4a4a4a" stroke-width="0.9" fill="none"/>
<ellipse cx="299.4" cy="376.1" rx="1.3" ry="1.7" stroke="#4a4a4a" stroke-width="0.9" fill="none"/>
<path d="M327.95,376.1 L327.95,376.1 L327.95,376.1 L328.13,362.08 L328.31,351.54 L328.5,343.6 L328.68,337.58 L328.87,333 L329.05,329.48 L329.24,326.76 L329.42,324.62 L329.6,322.93 L330.71,317.34 L331.82,314.42 L332.92,312.05 L334.03,309.87 L335.14,307.83 L336.24,305.91 L337.35,304.09 L338.46,302.37 L339.56,300.75 L340.67,299.22 L341.78,297.77 L342.88,296.41 L343.99,295.12 L345.09,293.9 L346.2,292.75 L347.31,291.67 L348.41,290.64 L349.52,289.68 L350.63,288.76 L351.73,287.9 L352.84,287.09 L353.95,286.32 L355.05,285.59 L356.16,284.9 L357.26,284.26 L358.37,283.64 L359.48,283.07 L360.58,282.52 L361.69,282.01 L362.8,281.52 L363.9,281.06 L365.01,280.63 L366.12,280.22 L367.22,279.83 L368.33,279.46 L369.44,279.12 L370.54,278.79 L371.65,278.49 L372.75,278.2 L373.86,277.92 L374.97,277.66 L376.07,277.42 L377.18,277.19 L378.29,276.97 L379.39,276.76 L380.5,276.57 L381.61,276.39 L382.71,276.21 L383.82,276.05 L384.92,275.89 L386.03,275.75 L387.14,275.61 L388.24,275.48 L389.35,275.36 L390.46,275.24 L391.56,275.13 L392.67,275.03 L393.78,274.93 L394.88,274.84 L394.88,274.82 L395.07,278.84 L395.25,282.61 L395.44,286.14 L395.62,289.45 L395.8,292.55 L395.99,295.46 L396.17,298.19 L396.36,300.75 L396.54,303.16 L397.98,317.55 L399.41,326.63 L400.85,332.59 L402.28,336.69 L403.71,339.69 L405.15,342.01 L406.58,343.91 L408.02,345.53 L409.45,346.97 L410.89,348.28 L412.32,349.49 L413.76,350.61 L415.19,351.67 L416.63,352.66 L418.06,353.6 L419.5,354.49 L420.93,355.34 L422.36,356.14 L423.8,356.9 L425.23,357.62 L426.67,358.3 L428.1,358.95 L429.54,359.56 L430.97,360.15 L432.41,360.7 L433.84,361.23 L435.28,361.73 L436.71,362.2 L438.14,362.65 L439.58,363.08 L441.01,363.48 L442.45,363.87 L443.88,364.23 L445.32,364.58 L446.75,364.91 L448.19,365.22 L449.62,365.51 L451.06,365.79 L452.49,366.06 L453.92,366.31 L455.36,366.55 L456.79,366.78 L458.23,367 L459.66,367.2 L461.1,367.4 L462.53,367.58 L463.97,367.76 L465.4,367.93 L466.84,368.08 L468.27,368.24 L469.71,368.38 L471.14,368.51 L472.57,368.64 L474.01,368.76 L475.44,368.88 L476.88,368.99 L478.31,369.09 L479.75,369.19 L481.18,369.29" fill="none" stroke="#1a1a1a" stroke-width="1.05" stroke-linejoin="round"/>
<path d="M327.95,376.1 L327.95,376.1 L327.95,376.1 L328.13,365.16 L328.31,356.95 L328.5,350.75 L328.68,346.06 L328.87,342.49 L329.05,339.75 L329.24,337.62 L329.42,335.95 L329.6,334.63 L330.71,330.28 L331.82,328 L332.92,326.15 L334.03,324.45 L335.14,322.86 L336.24,321.36 L337.35,319.94 L338.46,318.6 L339.56,317.34 L340.67,316.14 L341.78,315.02 L342.88,313.95 L343.99,312.95 L345.09,312 L346.2,311.1 L347.31,310.26 L348.41,309.46 L349.52,308.7 L350.63,307.99 L351.73,307.32 L352.84,306.68 L353.95,306.08 L355.05,305.51 L356.16,304.98 L357.26,304.47 L358.37,304 L359.48,303.55 L360.58,303.12 L361.69,302.72 L362.8,302.34 L363.9,301.98 L365.01,301.64 L366.12,301.32 L367.22,301.02 L368.33,300.74 L369.44,300.47 L370.54,300.21 L371.65,299.97 L372.75,299.75 L373.86,299.53 L374.97,299.33 L376.07,299.14 L377.18,298.96 L378.29,298.79 L379.39,298.63 L380.5,298.48 L381.61,298.34 L382.71,298.2 L383.82,298.07 L384.92,297.95 L386.03,297.84 L387.14,297.73 L388.24,297.63 L389.35,297.53 L390.46,297.44 L391.56,297.36 L392.67,297.28 L393.78,297.2 L394.88,297.13 L394.88,297.11 L395.07,299.88 L395.25,302.47 L395.44,304.91 L395.62,307.2 L395.8,309.34 L395.99,311.36 L396.17,313.25 L396.36,315.03 L396.54,316.71 L397.98,326.84 L399.41,333.37 L400.85,337.78 L402.28,340.93 L403.71,343.31 L405.15,345.22 L406.58,346.83 L408.02,348.24 L409.45,349.51 L410.89,350.67 L412.32,351.76 L413.76,352.77 L415.19,353.72 L416.63,354.62 L418.06,355.47 L419.5,356.28 L420.93,357.04 L422.36,357.77 L423.8,358.46 L425.23,359.11 L426.67,359.73 L428.1,360.32 L429.54,360.88 L430.97,361.4 L432.41,361.91 L433.84,362.38 L435.28,362.84 L436.71,363.27 L438.14,363.67 L439.58,364.06 L441.01,364.43 L442.45,364.78 L443.88,365.11 L445.32,365.42 L446.75,365.72 L448.19,366 L449.62,366.27 L451.06,366.53 L452.49,366.77 L453.92,367 L455.36,367.22 L456.79,367.42 L458.23,367.62 L459.66,367.81 L461.1,367.98 L462.53,368.15 L463.97,368.31 L465.4,368.46 L466.84,368.6 L468.27,368.74 L469.71,368.87 L471.14,368.99 L472.57,369.11 L474.01,369.22 L475.44,369.32 L476.88,369.42 L478.31,369.52 L479.75,369.61 L481.18,369.69" fill="none" stroke="#1a1a1a" stroke-width="1.05" stroke-linejoin="round"/>
<path d="M327.95,376.1 L327.95,376.1 L327.95,376.1 L328.13,368.94 L328.31,363.56 L328.5,359.51 L328.68,356.44 L328.87,354.1 L329.05,352.3 L329.24,350.91 L329.42,349.82 L329.6,348.95 L330.71,346.1 L331.82,344.61 L332.92,343.4 L334.03,342.29 L335.14,341.25 L336.24,340.26 L337.35,339.33 L338.46,338.46 L339.56,337.63 L340.67,336.85 L341.78,336.11 L342.88,335.41 L343.99,334.76 L345.09,334.14 L346.2,333.55 L347.31,332.99 L348.41,332.47 L349.52,331.98 L350.63,331.51 L351.73,331.07 L352.84,330.65 L353.95,330.26 L355.05,329.89 L356.16,329.54 L357.26,329.21 L358.37,328.9 L359.48,328.6 L360.58,328.32 L361.69,328.06 L362.8,327.81 L363.9,327.58 L365.01,327.36 L366.12,327.15 L367.22,326.95 L368.33,326.76 L369.44,326.59 L370.54,326.42 L371.65,326.26 L372.75,326.12 L373.86,325.98 L374.97,325.84 L376.07,325.72 L377.18,325.6 L378.29,325.49 L379.39,325.38 L380.5,325.29 L381.61,325.19 L382.71,325.1 L383.82,325.02 L384.92,324.94 L386.03,324.87 L387.14,324.8 L388.24,324.73 L389.35,324.67 L390.46,324.61 L391.56,324.55 L392.67,324.5 L393.78,324.45 L394.88,324.4 L394.88,324.39 L395.07,325.86 L395.25,327.25 L395.44,328.55 L395.62,329.78 L395.8,330.94 L395.99,332.03 L396.17,333.05 L396.36,334.02 L396.54,334.94 L397.98,340.57 L399.41,344.35 L400.85,347.03 L402.28,349.05 L403.71,350.65 L405.15,352 L406.58,353.17 L408.02,354.23 L409.45,355.19 L410.89,356.09 L412.32,356.93 L413.76,357.72 L415.19,358.46 L416.63,359.17 L418.06,359.84 L419.5,360.47 L420.93,361.07 L422.36,361.64 L423.8,362.18 L425.23,362.69 L426.67,363.18 L428.1,363.64 L429.54,364.08 L430.97,364.49 L432.41,364.89 L433.84,365.26 L435.28,365.62 L436.71,365.95 L438.14,366.28 L439.58,366.58 L441.01,366.87 L442.45,367.14 L443.88,367.4 L445.32,367.65 L446.75,367.88 L448.19,368.1 L449.62,368.32 L451.06,368.52 L452.49,368.71 L453.92,368.89 L455.36,369.06 L456.79,369.22 L458.23,369.37 L459.66,369.52 L461.1,369.66 L462.53,369.79 L463.97,369.92 L465.4,370.03 L466.84,370.15 L468.27,370.25 L469.71,370.36 L471.14,370.45 L472.57,370.54 L474.01,370.63 L475.44,370.71 L476.88,370.79 L478.31,370.86 L479.75,370.94 L481.18,371" fill="none" stroke="#1a1a1a" stroke-width="1.05" stroke-linejoin="round"/>
<path d="M327.95,376.1 L327.95,376.1 L327.95,376.1 L328.13,370.65 L328.31,366.55 L328.5,363.47 L328.68,361.13 L328.87,359.35 L329.05,357.98 L329.24,356.92 L329.42,356.09 L329.6,355.43 L330.71,353.26 L331.82,352.12 L332.92,351.2 L334.03,350.35 L335.14,349.56 L336.24,348.81 L337.35,348.1 L338.46,347.44 L339.56,346.81 L340.67,346.21 L341.78,345.65 L342.88,345.12 L343.99,344.62 L345.09,344.15 L346.2,343.7 L347.31,343.28 L348.41,342.88 L349.52,342.5 L350.63,342.15 L351.73,341.81 L352.84,341.49 L353.95,341.2 L355.05,340.91 L356.16,340.65 L357.26,340.39 L358.37,340.16 L359.48,339.93 L360.58,339.72 L361.69,339.52 L362.8,339.33 L363.9,339.15 L365.01,338.98 L366.12,338.82 L367.22,338.67 L368.33,338.53 L369.44,338.4 L370.54,338.27 L371.65,338.15 L372.75,338.04 L373.86,337.93 L374.97,337.83 L376.07,337.74 L377.18,337.65 L378.29,337.56 L379.39,337.48 L380.5,337.41 L381.61,337.34 L382.71,337.27 L383.82,337.2 L384.92,337.14 L386.03,337.09 L387.14,337.03 L388.24,336.98 L389.35,336.94 L390.46,336.89 L391.56,336.85 L392.67,336.81 L393.78,336.77 L394.88,336.73 L394.88,336.72 L395.07,337.71 L395.25,338.64 L395.44,339.52 L395.62,340.35 L395.8,341.13 L395.99,341.87 L396.17,342.57 L396.36,343.23 L396.54,343.85 L397.98,347.75 L399.41,350.43 L400.85,352.39 L402.28,353.91 L403.71,355.15 L405.15,356.22 L406.58,357.16 L408.02,358.02 L409.45,358.81 L410.89,359.54 L412.32,360.24 L413.76,360.89 L415.19,361.5 L416.63,362.09 L418.06,362.64 L419.5,363.16 L420.93,363.66 L422.36,364.13 L423.8,364.58 L425.23,365.01 L426.67,365.41 L428.1,365.79 L429.54,366.15 L430.97,366.5 L432.41,366.83 L433.84,367.14 L435.28,367.43 L436.71,367.71 L438.14,367.98 L439.58,368.23 L441.01,368.47 L442.45,368.69 L443.88,368.91 L445.32,369.11 L446.75,369.31 L448.19,369.49 L449.62,369.67 L451.06,369.83 L452.49,369.99 L453.92,370.14 L455.36,370.28 L456.79,370.42 L458.23,370.54 L459.66,370.67 L461.1,370.78 L462.53,370.89 L463.97,370.99 L465.4,371.09 L466.84,371.19 L468.27,371.27 L469.71,371.36 L471.14,371.44 L472.57,371.51 L474.01,371.59 L475.44,371.65 L476.88,371.72 L478.31,371.78 L479.75,371.84 L481.18,371.89" fill="none" stroke="#1a1a1a" stroke-width="1.05" stroke-linejoin="round"/>
<path d="M327.95,376.1 L327.95,376.1 L327.95,376.1 L328.13,372.55 L328.31,369.89 L328.5,367.88 L328.68,366.36 L328.87,365.2 L329.05,364.31 L329.24,363.62 L329.42,363.08 L329.6,362.65 L330.71,361.24 L331.82,360.5 L332.92,359.9 L334.03,359.35 L335.14,358.83 L336.24,358.35 L337.35,357.89 L338.46,357.45 L339.56,357.04 L340.67,356.65 L341.78,356.29 L342.88,355.94 L343.99,355.62 L345.09,355.31 L346.2,355.02 L347.31,354.75 L348.41,354.49 L349.52,354.24 L350.63,354.01 L351.73,353.79 L352.84,353.59 L353.95,353.39 L355.05,353.21 L356.16,353.03 L357.26,352.87 L358.37,352.72 L359.48,352.57 L360.58,352.43 L361.69,352.3 L362.8,352.18 L363.9,352.06 L365.01,351.95 L366.12,351.85 L367.22,351.75 L368.33,351.66 L369.44,351.57 L370.54,351.49 L371.65,351.41 L372.75,351.34 L373.86,351.27 L374.97,351.2 L376.07,351.14 L377.18,351.08 L378.29,351.03 L379.39,350.98 L380.5,350.93 L381.61,350.88 L382.71,350.84 L383.82,350.79 L384.92,350.76 L386.03,350.72 L387.14,350.68 L388.24,350.65 L389.35,350.62 L390.46,350.59 L391.56,350.56 L392.67,350.54 L393.78,350.51 L394.88,350.49 L394.88,350.48 L395.07,351.01 L395.25,351.52 L395.44,351.99 L395.62,352.44 L395.8,352.87 L395.99,353.27 L396.17,353.66 L396.36,354.02 L396.54,354.37 L397.98,356.57 L399.41,358.16 L400.85,359.37 L402.28,360.34 L403.71,361.17 L405.15,361.9 L406.58,362.55 L408.02,363.15 L409.45,363.72 L410.89,364.24 L412.32,364.74 L413.76,365.2 L415.19,365.65 L416.63,366.07 L418.06,366.46 L419.5,366.84 L420.93,367.2 L422.36,367.54 L423.8,367.86 L425.23,368.16 L426.67,368.45 L428.1,368.73 L429.54,368.99 L430.97,369.24 L432.41,369.47 L433.84,369.7 L435.28,369.91 L436.71,370.11 L438.14,370.3 L439.58,370.48 L441.01,370.65 L442.45,370.82 L443.88,370.97 L445.32,371.12 L446.75,371.26 L448.19,371.39 L449.62,371.52 L451.06,371.64 L452.49,371.75 L453.92,371.86 L455.36,371.96 L456.79,372.06 L458.23,372.15 L459.66,372.24 L461.1,372.32 L462.53,372.4 L463.97,372.47 L465.4,372.54 L466.84,372.61 L468.27,372.67 L469.71,372.73 L471.14,372.79 L472.57,372.85 L474.01,372.9 L475.44,372.95 L476.88,372.99 L478.31,373.04 L479.75,373.08 L481.18,373.12" fill="none" stroke="#1a1a1a" stroke-width="1.05" stroke-linejoin="round"/>
<path d="M327.95,376.1 L327.95,376.1 L327.95,376.1 L328.13,373.28 L328.31,371.15 L328.5,369.55 L328.68,368.34 L328.87,367.42 L329.05,366.71 L329.24,366.16 L329.42,365.73 L329.6,365.39 L330.71,364.27 L331.82,363.68 L332.92,363.2 L334.03,362.76 L335.14,362.35 L336.24,361.96 L337.35,361.6 L338.46,361.25 L339.56,360.92 L340.67,360.62 L341.78,360.32 L342.88,360.05 L343.99,359.79 L345.09,359.55 L346.2,359.31 L347.31,359.1 L348.41,358.89 L349.52,358.69 L350.63,358.51 L351.73,358.34 L352.84,358.17 L353.95,358.02 L355.05,357.87 L356.16,357.73 L357.26,357.6 L358.37,357.48 L359.48,357.36 L360.58,357.25 L361.69,357.15 L362.8,357.05 L363.9,356.96 L365.01,356.87 L366.12,356.79 L367.22,356.71 L368.33,356.64 L369.44,356.57 L370.54,356.5 L371.65,356.44 L372.75,356.38 L373.86,356.33 L374.97,356.27 L376.07,356.22 L377.18,356.18 L378.29,356.13 L379.39,356.09 L380.5,356.05 L381.61,356.02 L382.71,355.98 L383.82,355.95 L384.92,355.92 L386.03,355.89 L387.14,355.86 L388.24,355.83 L389.35,355.81 L390.46,355.79 L391.56,355.76 L392.67,355.74 L393.78,355.72 L394.88,355.71 L394.88,355.7 L395.07,356.09 L395.25,356.45 L395.44,356.8 L395.62,357.12 L395.8,357.43 L395.99,357.73 L396.17,358.01 L396.36,358.28 L396.54,358.54 L397.98,360.18 L399.41,361.39 L400.85,362.33 L402.28,363.1 L403.71,363.76 L405.15,364.35 L406.58,364.89 L408.02,365.39 L409.45,365.85 L410.89,366.28 L412.32,366.69 L413.76,367.08 L415.19,367.45 L416.63,367.8 L418.06,368.13 L419.5,368.44 L420.93,368.74 L422.36,369.02 L423.8,369.28 L425.23,369.54 L426.67,369.78 L428.1,370.01 L429.54,370.22 L430.97,370.43 L432.41,370.62 L433.84,370.81 L435.28,370.99 L436.71,371.15 L438.14,371.31 L439.58,371.46 L441.01,371.6 L442.45,371.74 L443.88,371.87 L445.32,371.99 L446.75,372.11 L448.19,372.22 L449.62,372.32 L451.06,372.42 L452.49,372.51 L453.92,372.6 L455.36,372.69 L456.79,372.77 L458.23,372.84 L459.66,372.92 L461.1,372.98 L462.53,373.05 L463.97,373.11 L465.4,373.17 L466.84,373.23 L468.27,373.28 L469.71,373.33 L471.14,373.38 L472.57,373.42 L474.01,373.46 L475.44,373.51 L476.88,373.54 L478.31,373.58 L479.75,373.62 L481.18,373.65" fill="none" stroke="#1a1a1a" stroke-width="1.05" stroke-linejoin="round"/>
<path d="M327.95,376.1 L327.95,376.1 L327.95,376.1 L328.13,374.43 L328.31,373.17 L328.5,372.22 L328.68,371.5 L328.87,370.95 L329.05,370.53 L329.24,370.21 L329.42,369.95 L329.6,369.75 L330.71,369.08 L331.82,368.73 L332.92,368.45 L334.03,368.19 L335.14,367.95 L336.24,367.72 L337.35,367.5 L338.46,367.29 L339.56,367.1 L340.67,366.92 L341.78,366.74 L342.88,366.58 L343.99,366.43 L345.09,366.28 L346.2,366.15 L347.31,366.02 L348.41,365.89 L349.52,365.78 L350.63,365.67 L351.73,365.57 L352.84,365.47 L353.95,365.38 L355.05,365.29 L356.16,365.21 L357.26,365.13 L358.37,365.06 L359.48,364.99 L360.58,364.92 L361.69,364.86 L362.8,364.8 L363.9,364.75 L365.01,364.7 L366.12,364.65 L367.22,364.6 L368.33,364.56 L369.44,364.52 L370.54,364.48 L371.65,364.44 L372.75,364.41 L373.86,364.37 L374.97,364.34 L376.07,364.31 L377.18,364.29 L378.29,364.26 L379.39,364.24 L380.5,364.21 L381.61,364.19 L382.71,364.17 L383.82,364.15 L384.92,364.13 L386.03,364.11 L387.14,364.1 L388.24,364.08 L389.35,364.07 L390.46,364.05 L391.56,364.04 L392.67,364.03 L393.78,364.02 L394.88,364.01 L394.88,364 L395.07,364.19 L395.25,364.37 L395.44,364.54 L395.62,364.7 L395.8,364.85 L395.99,365 L396.17,365.14 L396.36,365.27 L396.54,365.4 L397.98,366.25 L399.41,366.91 L400.85,367.44 L402.28,367.9 L403.71,368.3 L405.15,368.66 L406.58,369 L408.02,369.31 L409.45,369.6 L410.89,369.88 L412.32,370.14 L413.76,370.38 L415.19,370.62 L416.63,370.84 L418.06,371.05 L419.5,371.25 L420.93,371.44 L422.36,371.62 L423.8,371.79 L425.23,371.95 L426.67,372.1 L428.1,372.25 L429.54,372.39 L430.97,372.52 L432.41,372.64 L433.84,372.76 L435.28,372.87 L436.71,372.98 L438.14,373.08 L439.58,373.17 L441.01,373.27 L442.45,373.35 L443.88,373.43 L445.32,373.51 L446.75,373.59 L448.19,373.66 L449.62,373.72 L451.06,373.79 L452.49,373.85 L453.92,373.9 L455.36,373.96 L456.79,374.01 L458.23,374.06 L459.66,374.1 L461.1,374.15 L462.53,374.19 L463.97,374.23 L465.4,374.26 L466.84,374.3 L468.27,374.33 L469.71,374.37 L471.14,374.4 L472.57,374.42 L474.01,374.45 L475.44,374.48 L476.88,374.5 L478.31,374.53 L479.75,374.55 L481.18,374.57" fill="none" stroke="#1a1a1a" stroke-width="1.05" stroke-linejoin="round"/>
<path d="M327.95,376.1 L327.95,376.1 L327.95,376.1 L328.13,374.62 L328.31,373.51 L328.5,372.67 L328.68,372.04 L328.87,371.56 L329.05,371.19 L329.24,370.9 L329.42,370.67 L329.6,370.5 L330.71,369.91 L331.82,369.6 L332.92,369.35 L334.03,369.12 L335.14,368.91 L336.24,368.7 L337.35,368.51 L338.46,368.33 L339.56,368.16 L340.67,368 L341.78,367.85 L342.88,367.7 L343.99,367.57 L345.09,367.44 L346.2,367.32 L347.31,367.2 L348.41,367.09 L349.52,366.99 L350.63,366.9 L351.73,366.8 L352.84,366.72 L353.95,366.64 L355.05,366.56 L356.16,366.49 L357.26,366.42 L358.37,366.36 L359.48,366.3 L360.58,366.24 L361.69,366.18 L362.8,366.13 L363.9,366.08 L365.01,366.04 L366.12,366 L367.22,365.95 L368.33,365.92 L369.44,365.88 L370.54,365.85 L371.65,365.81 L372.75,365.78 L373.86,365.75 L374.97,365.73 L376.07,365.7 L377.18,365.68 L378.29,365.65 L379.39,365.63 L380.5,365.61 L381.61,365.59 L382.71,365.57 L383.82,365.56 L384.92,365.54 L386.03,365.52 L387.14,365.51 L388.24,365.5 L389.35,365.48 L390.46,365.47 L391.56,365.46 L392.67,365.45 L393.78,365.44 L394.88,365.43 L394.88,365.43 L395.07,365.58 L395.25,365.73 L395.44,365.88 L395.62,366.01 L395.8,366.14 L395.99,366.27 L396.17,366.39 L396.36,366.5 L396.54,366.61 L397.98,367.34 L399.41,367.91 L400.85,368.38 L402.28,368.78 L403.71,369.13 L405.15,369.46 L406.58,369.75 L408.02,370.03 L409.45,370.29 L410.89,370.54 L412.32,370.77 L413.76,370.99 L415.19,371.2 L416.63,371.4 L418.06,371.59 L419.5,371.77 L420.93,371.93 L422.36,372.1 L423.8,372.25 L425.23,372.39 L426.67,372.53 L428.1,372.66 L429.54,372.78 L430.97,372.9 L432.41,373.01 L433.84,373.12 L435.28,373.22 L436.71,373.31 L438.14,373.4 L439.58,373.49 L441.01,373.57 L442.45,373.65 L443.88,373.72 L445.32,373.79 L446.75,373.86 L448.19,373.92 L449.62,373.98 L451.06,374.04 L452.49,374.09 L453.92,374.14 L455.36,374.19 L456.79,374.23 L458.23,374.28 L459.66,374.32 L461.1,374.36 L462.53,374.4 L463.97,374.43 L465.4,374.46 L466.84,374.5 L468.27,374.53 L469.71,374.55 L471.14,374.58 L472.57,374.61 L474.01,374.63 L475.44,374.66 L476.88,374.68 L478.31,374.7 L479.75,374.72 L481.18,374.74" fill="none" stroke="#1a1a1a" stroke-width="1.05" stroke-linejoin="round"/>
<path d="M327.95,376.1 L327.95,376.1 L327.95,376.1 L328.13,375.28 L328.31,374.66 L328.5,374.2 L328.68,373.85 L328.87,373.58 L329.05,373.37 L329.24,373.21 L329.42,373.09 L329.6,372.99 L330.71,372.66 L331.82,372.49 L332.92,372.35 L334.03,372.22 L335.14,372.1 L336.24,371.99 L337.35,371.88 L338.46,371.78 L339.56,371.69 L340.67,371.6 L341.78,371.51 L342.88,371.43 L343.99,371.36 L345.09,371.29 L346.2,371.22 L347.31,371.16 L348.41,371.1 L349.52,371.04 L350.63,370.99 L351.73,370.94 L352.84,370.89 L353.95,370.84 L355.05,370.8 L356.16,370.76 L357.26,370.72 L358.37,370.69 L359.48,370.65 L360.58,370.62 L361.69,370.59 L362.8,370.56 L363.9,370.54 L365.01,370.51 L366.12,370.49 L367.22,370.46 L368.33,370.44 L369.44,370.42 L370.54,370.4 L371.65,370.38 L372.75,370.37 L373.86,370.35 L374.97,370.34 L376.07,370.32 L377.18,370.31 L378.29,370.3 L379.39,370.28 L380.5,370.27 L381.61,370.26 L382.71,370.25 L383.82,370.24 L384.92,370.23 L386.03,370.22 L387.14,370.22 L388.24,370.21 L389.35,370.2 L390.46,370.19 L391.56,370.19 L392.67,370.18 L393.78,370.18 L394.88,370.17 L394.88,370.17 L395.07,370.24 L395.25,370.31 L395.44,370.38 L395.62,370.44 L395.8,370.5 L395.99,370.56 L396.17,370.62 L396.36,370.67 L396.54,370.73 L397.98,371.09 L399.41,371.38 L400.85,371.63 L402.28,371.85 L403.71,372.05 L405.15,372.24 L406.58,372.41 L408.02,372.57 L409.45,372.72 L410.89,372.86 L412.32,373 L413.76,373.13 L415.19,373.25 L416.63,373.37 L418.06,373.48 L419.5,373.58 L420.93,373.68 L422.36,373.77 L423.8,373.86 L425.23,373.95 L426.67,374.03 L428.1,374.1 L429.54,374.18 L430.97,374.24 L432.41,374.31 L433.84,374.37 L435.28,374.43 L436.71,374.49 L438.14,374.54 L439.58,374.59 L441.01,374.64 L442.45,374.68 L443.88,374.72 L445.32,374.77 L446.75,374.8 L448.19,374.84 L449.62,374.88 L451.06,374.91 L452.49,374.94 L453.92,374.97 L455.36,375 L456.79,375.02 L458.23,375.05 L459.66,375.07 L461.1,375.1 L462.53,375.12 L463.97,375.14 L465.4,375.16 L466.84,375.18 L468.27,375.2 L469.71,375.21 L471.14,375.23 L472.57,375.24 L474.01,375.26 L475.44,375.27 L476.88,375.28 L478.31,375.3 L479.75,375.31 L481.18,375.32" fill="none" stroke="#1a1a1a" stroke-width="1.05" stroke-linejoin="round"/>
<path d="M327.95,376.1 L327.95,376.1 L327.95,376.1 L328.13,375.64 L328.31,375.29 L328.5,375.03 L328.68,374.84 L328.87,374.69 L329.05,374.57 L329.24,374.48 L329.42,374.41 L329.6,374.36 L330.71,374.17 L331.82,374.08 L332.92,374 L334.03,373.93 L335.14,373.86 L336.24,373.8 L337.35,373.74 L338.46,373.68 L339.56,373.63 L340.67,373.58 L341.78,373.53 L342.88,373.49 L343.99,373.44 L345.09,373.41 L346.2,373.37 L347.31,373.33 L348.41,373.3 L349.52,373.27 L350.63,373.24 L351.73,373.21 L352.84,373.18 L353.95,373.16 L355.05,373.13 L356.16,373.11 L357.26,373.09 L358.37,373.07 L359.48,373.05 L360.58,373.03 L361.69,373.01 L362.8,373 L363.9,372.98 L365.01,372.97 L366.12,372.96 L367.22,372.94 L368.33,372.93 L369.44,372.92 L370.54,372.91 L371.65,372.9 L372.75,372.89 L373.86,372.88 L374.97,372.87 L376.07,372.86 L377.18,372.86 L378.29,372.85 L379.39,372.84 L380.5,372.84 L381.61,372.83 L382.71,372.82 L383.82,372.82 L384.92,372.81 L386.03,372.81 L387.14,372.81 L388.24,372.8 L389.35,372.8 L390.46,372.79 L391.56,372.79 L392.67,372.79 L393.78,372.78 L394.88,372.78 L394.88,372.78 L395.07,372.81 L395.25,372.85 L395.44,372.88 L395.62,372.91 L395.8,372.94 L395.99,372.97 L396.17,373 L396.36,373.02 L396.54,373.05 L397.98,373.24 L399.41,373.39 L400.85,373.53 L402.28,373.65 L403.71,373.76 L405.15,373.87 L406.58,373.97 L408.02,374.06 L409.45,374.15 L410.89,374.23 L412.32,374.31 L413.76,374.39 L415.19,374.46 L416.63,374.52 L418.06,374.59 L419.5,374.65 L420.93,374.7 L422.36,374.76 L423.8,374.81 L425.23,374.86 L426.67,374.91 L428.1,374.95 L429.54,374.99 L430.97,375.03 L432.41,375.07 L433.84,375.11 L435.28,375.14 L436.71,375.17 L438.14,375.2 L439.58,375.23 L441.01,375.26 L442.45,375.29 L443.88,375.31 L445.32,375.33 L446.75,375.36 L448.19,375.38 L449.62,375.4 L451.06,375.42 L452.49,375.43 L453.92,375.45 L455.36,375.47 L456.79,375.48 L458.23,375.5 L459.66,375.51 L461.1,375.53 L462.53,375.54 L463.97,375.55 L465.4,375.56 L466.84,375.57 L468.27,375.58 L469.71,375.59 L471.14,375.6 L472.57,375.61 L474.01,375.62 L475.44,375.63 L476.88,375.63 L478.31,375.64 L479.75,375.65 L481.18,375.65" fill="none" stroke="#1a1a1a" stroke-width="1.05" stroke-linejoin="round"/>
<line x1="429" y1="288.4" x2="504.8" y2="288.4" stroke="#4a4a4a" stroke-width="0.7"/>
<line x1="429" y1="232.6" x2="429" y2="288.4" stroke="#4a4a4a" stroke-width="0.7"/>
<line x1="429" y1="288.4" x2="429" y2="289.4" stroke="#4a4a4a" stroke-width="0.63"/>
<text x="429.25" y="296.2" font-size="4.3" font-family='"Liberation Sans", sans-serif' font-weight="bold" text-anchor="middle" fill="#111" letter-spacing="0.5">-50</text>
<line x1="454.24" y1="288.4" x2="454.24" y2="289.4" stroke="#4a4a4a" stroke-width="0.63"/>
<text x="454.49" y="296.2" font-size="4.3" font-family='"Liberation Sans", sans-serif' font-weight="bold" text-anchor="middle" fill="#111" letter-spacing="0.5">150</text>
<line x1="479.48" y1="288.4" x2="479.48" y2="289.4" stroke="#4a4a4a" stroke-width="0.63"/>
<text x="479.73" y="296.2" font-size="4.3" font-family='"Liberation Sans", sans-serif' font-weight="bold" text-anchor="middle" fill="#111" letter-spacing="0.5">350</text>
<line x1="504.72" y1="288.4" x2="504.72" y2="289.4" stroke="#4a4a4a" stroke-width="0.63"/>
<text x="504.97" y="296.2" font-size="4.3" font-family='"Liberation Sans", sans-serif' font-weight="bold" text-anchor="middle" fill="#111" letter-spacing="0.5">550</text>
<line x1="428" y1="288.4" x2="429" y2="288.4" stroke="#4a4a4a" stroke-width="0.63"/>
<text x="424.7" y="290.12" font-size="4.3" font-family='"Liberation Sans", sans-serif' font-weight="bold" text-anchor="end" fill="#111" letter-spacing="0.5">0</text>
<line x1="428" y1="272.24" x2="429" y2="272.24" stroke="#4a4a4a" stroke-width="0.63"/>
<text x="424.7" y="273.96" font-size="4.3" font-family='"Liberation Sans", sans-serif' font-weight="bold" text-anchor="end" fill="#111" letter-spacing="0.5">200</text>
<line x1="428" y1="256.08" x2="429" y2="256.08" stroke="#4a4a4a" stroke-width="0.63"/>
<text x="424.7" y="257.8" font-size="4.3" font-family='"Liberation Sans", sans-serif' font-weight="bold" text-anchor="end" fill="#111" letter-spacing="0.5">400</text>
<line x1="428" y1="239.92" x2="429" y2="239.92" stroke="#4a4a4a" stroke-width="0.63"/>
<text x="424.7" y="241.64" font-size="4.3" font-family='"Liberation Sans", sans-serif' font-weight="bold" text-anchor="end" fill="#111" letter-spacing="0.5">600</text>
<text x="466.4" y="305.2" font-size="5.9" font-family='"Liberation Serif", serif' font-weight="bold" text-anchor="middle" fill="#111">Time (s)</text>
<text x="413.4" y="260.8" font-size="5.45" font-family='"Liberation Serif", serif' font-weight="bold" text-anchor="middle" fill="#111" transform="rotate(-90 413.4 260.8)">Response (RU)</text>
<path d="M435.31,288.4 L435.31,288.4 L436.52,285.56 L437.73,283.74 L438.94,282.48 L440.15,281.56 L441.36,280.85 L442.57,280.27 L443.78,279.78 L444.99,279.34 L446.2,278.95 L447.41,278.58 L448.62,278.23 L449.83,277.9 L451.04,277.57 L452.25,277.25 L453.46,276.94 L454.67,276.64 L455.88,276.34 L457.09,276.05 L458.3,275.76 L459.51,275.48 L460.72,275.19 L461.93,274.92 L463.13,274.64 L464.34,274.37 L465.55,274.1 L466.76,273.83 L467.97,273.57 L469.18,273.31 L470.39,273.05 L470.39,273.05 L471.23,274.45 L472.08,275.69 L472.92,276.79 L473.76,277.77 L474.6,278.63 L475.44,279.39 L476.28,280.07 L477.12,280.67 L477.97,281.2 L478.81,281.68 L479.65,282.09 L480.49,282.46 L481.33,282.79 L482.17,283.08 L483.01,283.34 L483.85,283.56 L484.7,283.77 L485.54,283.94 L486.38,284.1 L487.22,284.24 L488.06,284.37 L488.9,284.48 L489.74,284.57 L490.59,284.66" fill="none" stroke="#1a1a1a" stroke-width="0.65" stroke-linejoin="round"/>
<path d="M435.31,288.4 L435.31,288.4 L436.52,286.9 L437.73,285.95 L438.94,285.29 L440.15,284.8 L441.36,284.42 L442.57,284.12 L443.78,283.86 L444.99,283.63 L446.2,283.43 L447.41,283.23 L448.62,283.05 L449.83,282.87 L451.04,282.7 L452.25,282.53 L453.46,282.37 L454.67,282.21 L455.88,282.05 L457.09,281.9 L458.3,281.75 L459.51,281.6 L460.72,281.45 L461.93,281.3 L463.13,281.16 L464.34,281.01 L465.55,280.87 L466.76,280.73 L467.97,280.59 L469.18,280.46 L470.39,280.32 L470.39,280.32 L471.23,281.06 L472.08,281.71 L472.92,282.29 L473.76,282.8 L474.6,283.26 L475.44,283.66 L476.28,284.02 L477.12,284.33 L477.97,284.61 L478.81,284.86 L479.65,285.08 L480.49,285.27 L481.33,285.45 L482.17,285.6 L483.01,285.73 L483.85,285.85 L484.7,285.96 L485.54,286.05 L486.38,286.14 L487.22,286.21 L488.06,286.28 L488.9,286.33 L489.74,286.39 L490.59,286.43" fill="none" stroke="#1a1a1a" stroke-width="0.65" stroke-linejoin="round"/>
<path d="M435.31,288.4 L435.31,288.4 L436.52,287.47 L437.73,286.88 L438.94,286.47 L440.15,286.17 L441.36,285.93 L442.57,285.75 L443.78,285.59 L444.99,285.45 L446.2,285.32 L447.41,285.2 L448.62,285.08 L449.83,284.97 L451.04,284.87 L452.25,284.76 L453.46,284.66 L454.67,284.56 L455.88,284.47 L457.09,284.37 L458.3,284.28 L459.51,284.18 L460.72,284.09 L461.93,284 L463.13,283.91 L464.34,283.82 L465.55,283.73 L466.76,283.65 L467.97,283.56 L469.18,283.47 L470.39,283.39 L470.39,283.39 L471.23,283.85 L472.08,284.25 L472.92,284.61 L473.76,284.93 L474.6,285.21 L475.44,285.46 L476.28,285.68 L477.12,285.88 L477.97,286.05 L478.81,286.21 L479.65,286.34 L480.49,286.46 L481.33,286.57 L482.17,286.66 L483.01,286.75 L483.85,286.82 L484.7,286.89 L485.54,286.95 L486.38,287 L487.22,287.04 L488.06,287.08 L488.9,287.12 L489.74,287.15 L490.59,287.18" fill="none" stroke="#1a1a1a" stroke-width="0.65" stroke-linejoin="round"/>
<path d="M435.31,288.4 L435.31,288.4 L436.52,287.77 L437.73,287.37 L438.94,287.09 L440.15,286.89 L441.36,286.73 L442.57,286.6 L443.78,286.49 L444.99,286.4 L446.2,286.31 L447.41,286.23 L448.62,286.15 L449.83,286.08 L451.04,286.01 L452.25,285.94 L453.46,285.87 L454.67,285.8 L455.88,285.73 L457.09,285.67 L458.3,285.61 L459.51,285.54 L460.72,285.48 L461.93,285.42 L463.13,285.36 L464.34,285.3 L465.55,285.24 L466.76,285.18 L467.97,285.12 L469.18,285.06 L470.39,285.01 L470.39,285.01 L471.23,285.32 L472.08,285.59 L472.92,285.83 L473.76,286.05 L474.6,286.24 L475.44,286.41 L476.28,286.56 L477.12,286.69 L477.97,286.81 L478.81,286.91 L479.65,287.01 L480.49,287.09 L481.33,287.16 L482.17,287.22 L483.01,287.28 L483.85,287.33 L484.7,287.38 L485.54,287.41 L486.38,287.45 L487.22,287.48 L488.06,287.51 L488.9,287.53 L489.74,287.55 L490.59,287.57" fill="none" stroke="#1a1a1a" stroke-width="0.65" stroke-linejoin="round"/>
<path d="M435.31,288.4 L435.31,288.4 L436.52,288 L437.73,287.74 L438.94,287.56 L440.15,287.43 L441.36,287.33 L442.57,287.24 L443.78,287.17 L444.99,287.11 L446.2,287.06 L447.41,287 L448.62,286.95 L449.83,286.91 L451.04,286.86 L452.25,286.82 L453.46,286.77 L454.67,286.73 L455.88,286.69 L457.09,286.64 L458.3,286.6 L459.51,286.56 L460.72,286.52 L461.93,286.48 L463.13,286.44 L464.34,286.41 L465.55,286.37 L466.76,286.33 L467.97,286.29 L469.18,286.26 L470.39,286.22 L470.39,286.22 L471.23,286.42 L472.08,286.59 L472.92,286.75 L473.76,286.89 L474.6,287.01 L475.44,287.12 L476.28,287.22 L477.12,287.3 L477.97,287.38 L478.81,287.44 L479.65,287.5 L480.49,287.56 L481.33,287.6 L482.17,287.64 L483.01,287.68 L483.85,287.71 L484.7,287.74 L485.54,287.77 L486.38,287.79 L487.22,287.81 L488.06,287.83 L488.9,287.84 L489.74,287.86 L490.59,287.87" fill="none" stroke="#1a1a1a" stroke-width="0.65" stroke-linejoin="round"/>
<path d="M435.31,288.4 L435.31,288.4 L436.52,288.16 L437.73,288.01 L438.94,287.9 L440.15,287.82 L441.36,287.76 L442.57,287.72 L443.78,287.67 L444.99,287.64 L446.2,287.6 L447.41,287.57 L448.62,287.54 L449.83,287.52 L451.04,287.49 L452.25,287.46 L453.46,287.44 L454.67,287.41 L455.88,287.38 L457.09,287.36 L458.3,287.34 L459.51,287.31 L460.72,287.29 L461.93,287.26 L463.13,287.24 L464.34,287.22 L465.55,287.2 L466.76,287.17 L467.97,287.15 L469.18,287.13 L470.39,287.11 L470.39,287.11 L471.23,287.23 L472.08,287.33 L472.92,287.42 L473.76,287.5 L474.6,287.58 L475.44,287.64 L476.28,287.7 L477.12,287.75 L477.97,287.79 L478.81,287.83 L479.65,287.87 L480.49,287.9 L481.33,287.93 L482.17,287.95 L483.01,287.97 L483.85,287.99 L484.7,288.01 L485.54,288.02 L486.38,288.04 L487.22,288.05 L488.06,288.06 L488.9,288.07 L489.74,288.08 L490.59,288.09" fill="none" stroke="#1a1a1a" stroke-width="0.65" stroke-linejoin="round"/>
</svg>
</body></html>
